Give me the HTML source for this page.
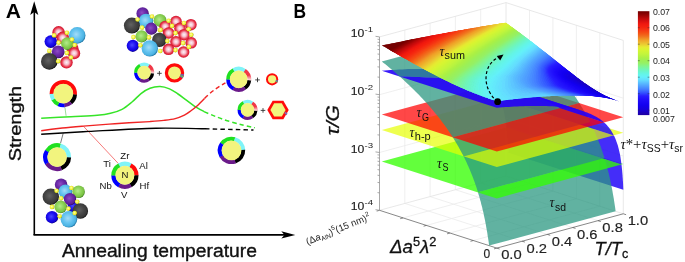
<!DOCTYPE html><html><head><meta charset="utf-8"><style>html,body{margin:0;padding:0;background:#fff;width:685px;height:262px;overflow:hidden}svg{display:block;will-change:transform}</style></head><body><svg width="685" height="262" viewBox="0 0 685 262" font-family="Liberation Sans, sans-serif"><defs><radialGradient id="g_red" cx="0.5" cy="0.5" r="0.56"><stop offset="0" stop-color="#fdf4f8"/><stop offset="0.34" stop-color="#f6bccb"/><stop offset="0.66" stop-color="#ea3c50"/><stop offset="0.88" stop-color="#d0102a"/><stop offset="1" stop-color="#7e0816"/></radialGradient><radialGradient id="g_lblue" cx="0.44" cy="0.44" r="0.56"><stop offset="0" stop-color="#a4dcf8"/><stop offset="0.5" stop-color="#66c4f0"/><stop offset="0.86" stop-color="#4ab2e2"/><stop offset="1" stop-color="#267aa8"/></radialGradient><radialGradient id="g_blue" cx="0.44" cy="0.44" r="0.56"><stop offset="0" stop-color="#4a48ff"/><stop offset="0.5" stop-color="#1e12f2"/><stop offset="0.86" stop-color="#1000d6"/><stop offset="1" stop-color="#080080"/></radialGradient><radialGradient id="g_green" cx="0.44" cy="0.44" r="0.56"><stop offset="0" stop-color="#b4ea8c"/><stop offset="0.5" stop-color="#8ed45a"/><stop offset="0.86" stop-color="#78c040"/><stop offset="1" stop-color="#468626"/></radialGradient><radialGradient id="g_purple" cx="0.44" cy="0.44" r="0.56"><stop offset="0" stop-color="#8e4cc4"/><stop offset="0.5" stop-color="#6c2caa"/><stop offset="0.86" stop-color="#5a1e94"/><stop offset="1" stop-color="#320a56"/></radialGradient><radialGradient id="g_gray" cx="0.44" cy="0.44" r="0.56"><stop offset="0" stop-color="#626262"/><stop offset="0.5" stop-color="#474747"/><stop offset="0.86" stop-color="#383838"/><stop offset="1" stop-color="#161616"/></radialGradient><radialGradient id="g_yellow" cx="0.44" cy="0.44" r="0.56"><stop offset="0" stop-color="#ffffb4"/><stop offset="0.5" stop-color="#f4f44a"/><stop offset="0.86" stop-color="#e2e21c"/><stop offset="1" stop-color="#9a9a10"/></radialGradient><linearGradient id="fadeR" x1="0" y1="0" x2="1" y2="1"><stop offset="0" stop-color="#f02030"/><stop offset="1" stop-color="#ffffff"/></linearGradient><linearGradient id="fadeW" x1="0" y1="0" x2="0" y2="1"><stop offset="0" stop-color="#ffffff" stop-opacity="0"/><stop offset="1" stop-color="#ffffff" stop-opacity="0.9"/></linearGradient><linearGradient id="cbar" x1="0" y1="1" x2="0" y2="0"><stop offset="0.000" stop-color="#1c00a0"/><stop offset="0.011" stop-color="#1e00aa"/><stop offset="0.049" stop-color="#1600d7"/><stop offset="0.097" stop-color="#1400f0"/><stop offset="0.145" stop-color="#1e0afa"/><stop offset="0.184" stop-color="#281eff"/><stop offset="0.213" stop-color="#3250ff"/><stop offset="0.251" stop-color="#4682ff"/><stop offset="0.280" stop-color="#50a0ff"/><stop offset="0.309" stop-color="#5abeff"/><stop offset="0.338" stop-color="#64dcff"/><stop offset="0.367" stop-color="#64f0fa"/><stop offset="0.396" stop-color="#64f5e6"/><stop offset="0.434" stop-color="#6ef5be"/><stop offset="0.473" stop-color="#82f58c"/><stop offset="0.501" stop-color="#96f064"/><stop offset="0.521" stop-color="#9bf058"/><stop offset="0.550" stop-color="#aaf046"/><stop offset="0.588" stop-color="#c3f53c"/><stop offset="0.627" stop-color="#d7f532"/><stop offset="0.655" stop-color="#e6eb32"/><stop offset="0.684" stop-color="#ebc832"/><stop offset="0.723" stop-color="#f0a028"/><stop offset="0.761" stop-color="#f06e1e"/><stop offset="0.790" stop-color="#f55014"/><stop offset="0.819" stop-color="#f53714"/><stop offset="0.848" stop-color="#f5230f"/><stop offset="0.877" stop-color="#f0190f"/><stop offset="0.906" stop-color="#d70f0f"/><stop offset="0.935" stop-color="#b90a0a"/><stop offset="0.963" stop-color="#960505"/><stop offset="0.992" stop-color="#780000"/><stop offset="1.000" stop-color="#730000"/></linearGradient></defs><style>.r{fill:#ff0000;fill-opacity:0.72;shape-rendering:crispEdges}.y{fill:#f0ff00;fill-opacity:0.68;shape-rendering:crispEdges}.g{fill:#2cff00;fill-opacity:0.72;shape-rendering:crispEdges}.t{fill:#3ca896;fill-opacity:0.78;shape-rendering:crispEdges}.b{fill:#1010ff;fill-opacity:0.92;shape-rendering:crispEdges}.S path{fill:currentColor;stroke:currentColor;stroke-width:.45}</style><path d="M522.1,241.2L404.8,203.4M473.3,240.5L599.8,206.2M547.4,234.4L430.1,196.6M449.9,233.0L576.4,198.7M572.7,227.5L455.4,189.7M426.4,225.4L552.9,191.1M598.0,220.7L480.7,182.9M403.0,217.9L529.5,183.6M404.8,203.4L404.8,30.0M430.1,196.6L430.1,23.2M455.4,189.7L455.4,16.3M480.7,182.9L480.7,9.5M379.5,94.7L506.0,60.4M623.3,98.2L506.0,60.4M379.5,152.5L506.0,118.2M623.3,156.0L506.0,118.2M599.8,206.2L599.8,32.8M576.4,198.7L576.4,25.3M552.9,191.1L552.9,17.7M529.5,183.6L529.5,10.2" stroke="#ebebeb" stroke-width="0.8" fill="none"/><path d="M379.5,36.9L506.0,2.6M506.0,2.6L623.3,40.4M506.0,176.0L506.0,2.6M623.3,213.8L623.3,40.4M379.5,210.3L506.0,176.0M506.0,176.0L623.3,213.8" stroke="#e2e2e2" stroke-width="0.8" fill="none"/><path d="M379.5,210.3L496.8,248.1M496.8,248.1L623.3,213.8M496.8,248.1L499.6,249.0M522.1,241.2L524.9,242.1M547.4,234.4L550.2,235.3M572.7,227.5L575.5,228.4M598.0,220.7L600.8,221.6M623.3,213.8L626.1,214.7M496.8,248.1L494.0,248.9M473.3,240.5L470.5,241.3M449.9,233.0L447.1,233.8M426.4,225.4L423.6,226.2M403.0,217.9L400.2,218.7M379.5,210.3L376.7,211.1" stroke="#555" stroke-width="0.7" fill="none"/><path d="M379.5,210.3L379.5,36.9M379.5,210.3L375.5,209.7M379.5,192.9L377.5,192.6M379.5,182.7L377.5,182.4M379.5,175.5L377.5,175.2M379.5,169.9L377.5,169.6M379.5,165.3L377.5,165.0M379.5,161.5L377.5,161.2M379.5,158.1L377.5,157.8M379.5,155.1L377.5,154.8M379.5,152.5L375.5,151.9M379.5,135.1L377.5,134.8M379.5,124.9L377.5,124.6M379.5,117.7L377.5,117.4M379.5,112.1L377.5,111.8M379.5,107.5L377.5,107.2M379.5,103.7L377.5,103.4M379.5,100.3L377.5,100.0M379.5,97.3L377.5,97.0M379.5,94.7L375.5,94.1M379.5,77.3L377.5,77.0M379.5,67.1L377.5,66.8M379.5,59.9L377.5,59.6M379.5,54.3L377.5,54.0M379.5,49.7L377.5,49.4M379.5,45.9L377.5,45.6M379.5,42.5L377.5,42.2M379.5,39.5L377.5,39.2M379.5,36.9L375.5,36.3" stroke="#8c8c8c" stroke-width="0.75" fill="none"/><path d="M621.5,164.6L621.9,168.2L622.1,169.9L622.2,171.2L622.3,172.5L622.4,173.6L622.5,174.7L622.6,175.8L622.6,176.8L622.7,177.8L622.8,178.9L622.8,179.9L622.9,180.9L623.0,181.9L623.0,182.9L623.1,184.0L623.1,185.1L623.2,186.2L623.2,187.3L623.3,188.5L623.3,189.8L508.3,152.8L508.3,151.5L508.3,150.3L508.2,149.1L508.2,148.0L508.1,146.9L508.1,145.9L508.0,144.9L507.9,143.8L507.9,142.8L507.8,141.8L507.8,140.8L507.7,139.8L507.6,138.7L507.5,137.7L507.5,136.6L507.4,135.4L507.2,134.2L507.1,132.8L507.0,131.1L506.6,127.5Z" fill="#2a10f8" fill-opacity="0.88"/><path d="M489.1,245.6L488.7,242.2L488.2,239.0L487.7,235.9L487.3,233.0L486.8,230.2L486.3,227.6L485.9,225.0L485.4,222.5L485.0,220.2L484.5,217.9L484.0,215.7L483.6,213.6L483.1,211.5L482.6,209.5L482.2,207.6L481.7,205.7L481.2,203.9L480.8,202.1L480.3,200.4L479.8,198.7L479.4,197.0L478.9,195.4L478.4,193.9L478.0,192.3L604.5,158.0L604.9,159.6L605.4,161.1L605.9,162.7L606.3,164.4L606.8,166.1L607.3,167.8L607.7,169.6L608.2,171.4L608.7,173.3L609.1,175.2L609.6,177.2L610.1,179.3L610.5,181.4L611.0,183.6L611.5,185.9L611.9,188.2L612.4,190.7L612.8,193.3L613.3,195.9L613.8,198.7L614.2,201.6L614.7,204.7L615.2,207.9L615.6,211.3Z" fill="#2c9882" fill-opacity="0.75"/><path d="M496.8,198.4L623.3,164.1L508.3,127.1L381.8,161.4Z" fill="#33ff00" fill-opacity="0.765"/><path d="M613.8,135.4L614.2,136.1L614.6,137.0L615.0,137.8L615.4,138.7L615.7,139.6L616.1,140.6L616.5,141.7L616.9,142.7L617.3,143.9L617.7,145.1L618.1,146.4L618.4,147.8L618.8,149.3L619.2,150.9L619.6,152.7L620.0,154.6L620.4,156.7L620.7,159.0L621.1,161.6L621.5,164.6L506.6,127.5L506.2,124.6L505.8,122.0L505.4,119.7L505.0,117.6L504.6,115.6L504.2,113.9L503.9,112.3L503.5,110.8L503.1,109.4L502.7,108.1L502.3,106.9L501.9,105.7L501.6,104.6L501.2,103.6L500.8,102.6L500.4,101.7L500.0,100.8L499.6,99.9L499.3,99.1L498.9,98.3Z" fill="#2a10f8" fill-opacity="0.88"/><path d="M478.0,192.3L477.4,190.4L476.8,188.5L476.2,186.7L475.6,185.0L475.0,183.2L474.4,181.5L473.8,179.9L473.2,178.3L472.6,176.7L472.0,175.2L471.4,173.7L470.8,172.2L470.2,170.7L469.6,169.3L469.0,167.9L468.4,166.5L467.8,165.2L467.2,163.9L466.6,162.6L466.0,161.3L465.4,160.1L464.8,158.8L464.2,157.6L463.6,156.4L590.1,122.1L590.7,123.3L591.3,124.5L591.9,125.8L592.5,127.0L593.1,128.3L593.7,129.6L594.3,130.9L594.9,132.2L595.5,133.6L596.1,135.0L596.7,136.4L597.3,137.9L597.9,139.4L598.5,140.9L599.1,142.4L599.7,144.0L600.3,145.6L600.9,147.2L601.5,148.9L602.1,150.7L602.7,152.4L603.3,154.2L603.9,156.1L604.5,158.0Z" fill="#2c9882" fill-opacity="0.75"/><path d="M496.8,167.1L623.3,132.8L508.3,95.8L381.8,130.1Z" fill="#e6ff00" fill-opacity="0.69"/><path d="M604.1,122.4L604.5,122.9L605.0,123.3L605.5,123.8L606.0,124.3L606.5,124.8L607.0,125.3L607.5,125.9L608.0,126.4L608.4,127.0L608.9,127.6L609.4,128.3L609.9,128.9L610.4,129.6L610.9,130.3L611.4,131.1L611.9,131.9L612.4,132.7L612.8,133.5L613.3,134.4L613.8,135.4L498.9,98.3L498.4,97.4L497.9,96.5L497.4,95.6L496.9,94.8L496.4,94.0L495.9,93.3L495.4,92.6L495.0,91.9L494.5,91.2L494.0,90.6L493.5,90.0L493.0,89.4L492.5,88.8L492.0,88.3L491.5,87.8L491.1,87.3L490.6,86.8L490.1,86.3L489.6,85.8L489.1,85.4Z" fill="#2a10f8" fill-opacity="0.88"/><path d="M463.6,156.4L463.2,155.5L462.7,154.6L462.2,153.8L461.8,152.9L461.3,152.0L460.9,151.2L460.4,150.4L460.0,149.5L459.5,148.7L459.1,147.9L458.6,147.1L458.2,146.3L457.7,145.5L457.3,144.7L456.8,144.0L456.4,143.2L455.9,142.4L455.5,141.7L455.0,141.0L454.6,140.2L454.1,139.5L453.7,138.8L453.2,138.0L452.8,137.3L579.3,103.0L579.7,103.7L580.2,104.5L580.6,105.2L581.1,105.9L581.5,106.7L582.0,107.4L582.4,108.1L582.9,108.9L583.3,109.7L583.8,110.4L584.2,111.2L584.7,112.0L585.1,112.8L585.6,113.6L586.0,114.4L586.5,115.2L586.9,116.1L587.4,116.9L587.8,117.7L588.3,118.6L588.7,119.5L589.2,120.3L589.7,121.2L590.1,122.1Z" fill="#2c9882" fill-opacity="0.75"/><path d="M496.8,151.5L623.3,117.2L508.3,80.2L381.8,114.5Z" fill="#ff0000" fill-opacity="0.72"/><path d="M525.2,92.6L526.8,93.1L528.4,93.7L530.1,94.2L531.7,94.8L533.4,95.4L535.1,96.0L536.8,96.7L538.4,97.4L540.2,98.1L541.9,98.8L543.6,99.6L545.4,100.4L547.1,101.2L548.9,102.1L550.7,103.0L552.5,103.9L554.4,104.9L556.2,106.0L558.1,107.1L560.0,108.2L489.1,85.4L488.1,84.5L487.1,83.7L486.1,82.9L485.1,82.2L484.1,81.5L483.1,80.9L482.2,80.3L481.2,79.7L480.2,79.1L479.2,78.6L478.2,78.1L477.2,77.6L476.2,77.2L475.2,76.8L474.2,76.3L473.2,76.0L472.2,75.6L471.2,75.2L470.2,74.9L469.3,74.6Z" fill="#2300fa" fill-opacity="0.9"/><path d="M399.6,76.5L403.5,76.6L407.4,76.6L411.3,76.7L415.2,76.9L419.2,77.0L423.1,77.2L427.1,77.4L431.0,77.6L435.0,77.8L439.1,78.1L443.1,78.4L447.1,78.7L451.2,79.0L455.3,79.4L459.4,79.8L463.6,80.2L467.7,80.7L471.9,81.3L476.1,81.8L480.4,82.5L484.7,83.1L489.0,83.9L493.3,84.7L497.7,85.5L502.2,86.4L506.7,87.5L511.2,88.6L515.8,89.8L520.4,91.1L525.2,92.6L469.3,74.6L466.3,73.7L463.4,72.9L460.5,72.2L457.6,71.7L454.7,71.1L451.8,70.7L448.9,70.3L445.9,70.0L443.0,69.7L440.1,69.5L437.2,69.3L434.3,69.1L431.4,69.0L428.5,68.9L425.6,68.9L422.6,68.9L419.7,68.9L416.8,68.9L413.9,68.9L411.0,69.0L408.1,69.1L405.2,69.2L402.2,69.4L399.3,69.5L396.4,69.7L393.5,69.9L390.6,70.1L387.7,70.3L384.8,70.5L381.8,70.7Z" fill="#2300fa" fill-opacity="0.9"/><path d="M452.8,137.3L451.0,134.6L449.2,131.9L447.5,129.3L445.7,126.8L443.9,124.3L442.1,121.9L440.4,119.6L438.6,117.3L436.8,115.1L435.0,112.9L433.3,110.8L431.5,108.7L429.7,106.6L427.9,104.6L426.2,102.6L424.4,100.7L422.6,98.8L420.9,96.9L419.1,95.1L417.3,93.3L415.5,91.5L413.8,89.7L412.0,88.0L410.2,86.3L408.4,84.6L406.7,82.9L404.9,81.2L403.1,79.6L401.4,78.0L399.6,76.4L397.8,74.9L396.0,73.3L394.3,71.8L392.5,70.3L390.7,68.8L388.9,67.3L387.2,65.8L385.4,64.3L383.6,62.9L381.8,61.5L508.3,27.2L510.1,28.6L511.9,30.0L513.7,31.5L515.4,33.0L517.2,34.5L519.0,36.0L520.8,37.5L522.5,39.0L524.3,40.6L526.1,42.1L527.9,43.7L529.6,45.3L531.4,46.9L533.2,48.6L534.9,50.3L536.7,52.0L538.5,53.7L540.3,55.4L542.0,57.2L543.8,59.0L545.6,60.8L547.4,62.6L549.1,64.5L550.9,66.4L552.7,68.3L554.4,70.3L556.2,72.3L558.0,74.4L559.8,76.5L561.5,78.6L563.3,80.8L565.1,83.0L566.9,85.3L568.6,87.6L570.4,90.0L572.2,92.5L574.0,95.0L575.7,97.6L577.5,100.3L579.3,103.0Z" fill="#2c9882" fill-opacity="0.75"/><path d="M584.2,111.6L585.2,111.9L586.2,112.3L587.2,112.6L588.2,113.0L589.2,113.4L590.2,113.8L591.2,114.2L592.1,114.7L593.1,115.2L594.1,115.7L595.1,116.2L596.1,116.7L597.1,117.3L598.1,117.9L599.1,118.6L600.1,119.3L601.1,120.0L602.1,120.7L603.1,121.6L604.1,122.4L560.0,108.2L558.1,107.1L556.2,106.0L554.4,104.9L552.5,103.9L550.7,103.0L548.9,102.1L547.1,101.2L545.4,100.4L543.6,99.6L541.9,98.8L540.2,98.1L538.4,97.4L536.8,96.7L535.1,96.0L533.4,95.4L531.7,94.8L530.1,94.2L528.4,93.7L526.8,93.1L525.2,92.6Z" fill="#2300fa" fill-opacity="0.9"/><path d="M496.8,107.8L499.7,107.6L502.6,107.3L505.5,107.1L508.5,106.9L511.4,106.7L514.3,106.6L517.2,106.4L520.1,106.3L523.0,106.2L525.9,106.1L528.9,106.0L531.8,105.9L534.7,105.9L537.6,105.9L540.5,105.9L543.4,106.0L546.3,106.1L549.2,106.2L552.2,106.3L555.1,106.5L558.0,106.8L560.9,107.0L563.8,107.4L566.7,107.7L569.6,108.2L572.6,108.7L575.5,109.3L578.4,110.0L581.3,110.7L584.2,111.6L525.2,92.6L520.4,91.1L515.8,89.8L511.2,88.6L506.7,87.5L502.2,86.4L497.7,85.5L493.3,84.7L489.0,83.9L484.7,83.1L480.4,82.5L476.1,81.8L471.9,81.3L467.7,80.7L463.6,80.2L459.4,79.8L455.3,79.4L451.2,79.0L447.1,78.7L443.1,78.4L439.1,78.1L435.0,77.8L431.0,77.6L427.1,77.4L423.1,77.2L419.2,77.0L415.2,76.9L411.3,76.7L407.4,76.6L403.5,76.6L399.6,76.5Z" fill="#2300fa" fill-opacity="0.9"/><clipPath id="sumclip"><path d="M496.8,101.3L498.8,101.0L500.8,100.8L502.9,100.5L504.9,100.3L506.9,100.0L508.9,99.8L511.0,99.6L513.0,99.3L515.0,99.1L517.0,98.9L519.1,98.7L521.1,98.5L523.1,98.3L525.1,98.1L527.2,97.9L529.2,97.7L531.2,97.5L533.2,97.3L535.3,97.2L537.3,97.0L539.3,96.8L541.3,96.7L543.4,96.5L545.4,96.4L547.4,96.3L549.4,96.2L551.4,96.0L553.5,95.9L555.5,95.8L557.5,95.8L559.5,95.7L561.6,95.6L563.6,95.6L565.6,95.5L567.6,95.5L569.7,95.4L571.7,95.4L573.7,95.4L575.7,95.4L577.8,95.5L579.8,95.5L581.8,95.6L583.8,95.6L585.9,95.7L587.9,95.8L589.9,96.0L591.9,96.1L594.0,96.3L596.0,96.5L598.0,96.7L600.0,97.0L602.0,97.3L604.1,97.6L606.1,97.9L608.1,98.3L610.1,98.7L612.2,99.2L614.2,99.8L616.2,100.4L618.2,101.0L618.2,101.0L618.2,101.0L618.2,101.0L618.3,101.0L618.3,101.0L618.3,101.0L618.3,101.0L618.3,101.0L618.3,101.0L618.3,101.0L618.3,101.0L618.3,101.0L618.3,101.1L618.3,101.1L618.3,101.1L618.3,101.1L618.3,101.1L618.3,101.1L618.3,101.1L618.3,101.1L618.3,101.1L618.3,101.1L618.3,101.1L618.3,101.1L618.3,101.1L618.3,101.1L618.3,101.1L618.3,101.1L618.3,101.1L618.3,101.1L618.3,101.1L618.3,101.1L618.3,101.1L618.3,101.1L618.3,101.1L618.4,101.1L618.4,101.1L618.4,101.1L618.4,101.1L618.4,101.1L618.4,101.1L618.4,101.1L618.4,101.1L618.4,101.1L618.4,101.2L618.4,101.2L618.4,101.2L618.4,101.2L618.4,101.2L618.4,101.2L618.4,101.2L618.4,101.2L618.4,101.2L618.4,101.2L618.4,101.2L618.4,101.2L618.4,101.2L618.4,101.2L618.4,101.2L618.4,101.2L616.5,100.5L614.7,99.8L612.8,99.1L610.9,98.3L609.0,97.5L607.2,96.6L605.3,95.7L603.4,94.7L601.5,93.7L599.7,92.7L597.8,91.6L595.9,90.4L594.0,89.3L592.1,88.1L590.3,86.8L588.4,85.6L586.5,84.3L584.6,82.9L582.8,81.6L580.9,80.2L579.0,78.8L577.1,77.4L575.3,76.0L573.4,74.5L571.5,73.1L569.6,71.6L567.8,70.2L565.9,68.7L564.0,67.2L562.1,65.7L560.2,64.2L558.4,62.7L556.5,61.3L554.6,59.8L552.7,58.3L550.9,56.8L549.0,55.3L547.1,53.8L545.2,52.3L543.4,50.9L541.5,49.4L539.6,47.9L537.7,46.5L535.8,45.0L534.0,43.6L532.1,42.1L530.2,40.7L528.3,39.3L526.5,37.8L524.6,36.4L522.7,35.0L520.8,33.6L519.0,32.2L517.1,30.9L515.2,29.5L513.3,28.1L511.4,26.7L509.6,25.4L507.7,24.0L505.8,22.7L503.7,23.0L501.7,23.3L499.6,23.6L497.6,23.9L495.5,24.3L493.4,24.6L491.4,24.9L489.3,25.3L487.2,25.6L485.2,26.0L483.1,26.3L481.0,26.6L479.0,27.0L476.9,27.4L474.8,27.7L472.8,28.1L470.7,28.4L468.6,28.8L466.6,29.2L464.5,29.5L462.4,29.9L460.4,30.3L458.3,30.6L456.2,31.0L454.2,31.4L452.1,31.8L450.0,32.1L448.0,32.5L445.9,32.9L443.8,33.3L441.8,33.7L439.7,34.1L437.6,34.5L435.6,34.8L433.5,35.2L431.4,35.6L429.4,36.0L427.3,36.4L425.2,36.8L423.2,37.2L421.1,37.6L419.0,38.0L417.0,38.4L414.9,38.8L412.8,39.2L410.8,39.6L408.7,40.0L406.6,40.4L404.6,40.8L402.5,41.3L400.4,41.7L398.4,42.1L396.3,42.5L394.2,42.9L392.2,43.3L390.1,43.7L388.0,44.2L386.0,44.6L383.9,45.0L381.8,45.4L383.8,46.5L385.7,47.6L387.6,48.7L389.5,49.8L391.4,50.9L393.3,52.0L395.3,53.1L397.2,54.2L399.1,55.3L401.0,56.4L402.9,57.5L404.8,58.6L406.8,59.6L408.7,60.7L410.6,61.8L412.5,62.9L414.4,63.9L416.3,65.0L418.2,66.1L420.2,67.1L422.1,68.2L424.0,69.2L425.9,70.2L427.8,71.3L429.7,72.3L431.7,73.3L433.6,74.3L435.5,75.3L437.4,76.3L439.3,77.3L441.2,78.3L443.2,79.2L445.1,80.2L447.0,81.1L448.9,82.1L450.8,83.0L452.7,83.9L454.7,84.8L456.6,85.7L458.5,86.5L460.4,87.4L462.3,88.3L464.2,89.1L466.1,89.9L468.1,90.7L470.0,91.5L471.9,92.3L473.8,93.1L475.7,93.8L477.6,94.6L479.6,95.3L481.5,96.0L483.4,96.7L485.3,97.4L487.2,98.1L489.1,98.7L491.1,99.4L493.0,100.0L494.9,100.7Z"/></clipPath><g stroke-width="1.1" stroke-linejoin="round" clip-path="url(#sumclip)"><path d="M587.9,85.2L585.5,83.5L588.1,85.3Z" fill="#1b00b9" stroke="#1b00b9"/><path d="M584.3,84.4L581.3,82.6L579.8,81.5L579.1,80.6L579.4,80.2L580.5,80.0L586.1,84.1L592.0,88.0L597.8,91.6L602.7,94.4L610.1,98.0L618.3,101.2L611.8,98.7L606.5,96.3Z" fill="#1a00c0" stroke="#1a00c0"/><path d="M580.7,83.3L578.0,81.7L576.6,80.6L575.8,79.6L575.6,79.1L575.9,78.7L576.8,78.3L578.4,78.3L580.5,80.0L579.4,80.2L579.1,80.6L579.4,81.0L580.5,82.1L583.2,83.8L606.5,96.3L611.8,98.7L618.2,101.1L610.9,98.4L605.4,96.0Z" fill="#1900c8" stroke="#1900c8"/><path d="M579.8,83.6L576.1,81.4L574.1,79.8L573.2,78.6L573.1,78.1L573.3,77.7L573.6,77.4L574.6,77.1L576.7,77.1L578.4,78.3L577.0,78.3L576.0,78.6L575.6,79.1L575.8,79.6L577.2,81.1L579.7,82.8L605.4,96.0L611.7,98.7L618.1,101.0L610.8,98.5L604.3,95.8Z" fill="#1700d0" stroke="#1700d0"/><path d="M578.2,83.3L574.6,81.2L572.5,79.6L571.2,78.1L571.1,77.1L571.3,76.8L572.6,76.1L575.4,76.1L576.7,77.1L574.8,77.1L573.6,77.4L573.2,77.8L573.2,78.6L574.7,80.3L577.8,82.5L583.1,85.3L604.3,95.8L610.0,98.2L616.8,100.5L610.0,98.3L603.2,95.6Z" fill="#1600d8" stroke="#1600d8"/><path d="M579.7,84.7L574.9,82.1L571.2,79.5L570.1,78.4L569.4,77.4L569.3,76.4L569.6,76.0L570.3,75.5L571.3,75.2L574.1,75.1L575.4,76.1L573.2,76.1L572.1,76.3L571.3,76.8L571.1,77.1L571.1,77.7L571.5,78.6L572.5,79.6L576.3,82.3L582.2,85.4L602.5,95.3L608.3,97.7L615.3,100.1L608.4,97.8L601.4,95.1Z" fill="#1600db" stroke="#1600db"/><path d="M576.3,83.5L572.0,80.9L568.8,78.3L568.1,77.3L567.7,76.4L567.8,75.8L568.2,75.1L569.8,74.4L573.0,74.3L574.1,75.1L572.0,75.1L570.3,75.5L569.5,76.0L569.3,76.9L569.7,77.9L570.6,78.9L574.0,81.5L580.8,85.2L600.6,94.8L606.6,97.2L613.7,99.6L606.7,97.4L599.5,94.7L582.4,86.6Z" fill="#1500de" stroke="#1500de"/><path d="M577.0,84.3L571.6,81.3L568.2,78.7L566.8,77.2L566.4,76.2L566.3,75.4L566.7,74.6L567.5,74.1L568.6,73.7L572.0,73.5L573.0,74.3L570.9,74.3L569.1,74.6L568.0,75.3L567.7,76.3L568.1,77.3L568.8,78.3L570.6,79.9L572.8,81.4L580.3,85.5L598.7,94.3L604.9,96.8L612.2,99.2L605.9,97.3L597.7,94.3Z" fill="#1500e2" stroke="#1500e2"/><path d="M579.5,86.1L572.1,82.2L567.7,79.1L566.1,77.6L565.2,76.3L564.9,75.0L565.3,74.1L566.0,73.5L567.0,73.1L568.9,72.8L571.0,72.7L572.0,73.5L569.2,73.6L567.5,74.1L566.6,74.7L566.3,75.6L566.5,76.7L567.7,78.2L569.4,79.8L571.6,81.3L578.9,85.3L596.9,94.0L603.2,96.4L610.6,98.8L604.2,97.0L595.8,93.9Z" fill="#1500e5" stroke="#1500e5"/><path d="M573.6,83.6L568.7,80.6L566.7,79.1L565.1,77.5L564.3,76.5L563.8,75.3L563.8,74.2L564.3,73.4L565.1,72.8L566.1,72.4L568.0,72.1L570.0,72.0L571.0,72.7L568.2,72.9L566.5,73.3L565.4,74.0L564.9,75.0L565.2,76.3L566.1,77.6L567.7,79.1L569.8,80.7L573.0,82.7L577.6,85.2L594.3,93.3L600.5,95.7L609.0,98.5L607.4,98.2L602.6,96.7L594.0,93.6L583.0,88.4Z" fill="#1500e9" stroke="#1500e9"/><path d="M594.1,94.0L589.9,92.3L578.5,86.7L572.4,83.4L568.4,81.0L565.7,79.0L563.5,76.7L562.5,74.9L562.5,73.9L562.8,73.3L563.7,72.4L564.9,71.9L566.7,71.5L569.1,71.2L570.0,72.0L567.3,72.2L565.6,72.6L564.2,73.4L563.9,73.9L563.7,74.7L564.0,76.0L565.1,77.5L566.7,79.1L568.7,80.6L571.8,82.6L576.3,85.0L593.2,93.3L599.7,95.7L607.4,98.2L602.9,97.0Z" fill="#1400ec" stroke="#1400ec"/><path d="M592.2,93.8L588.0,92.0L578.8,87.4L572.1,83.8L567.4,80.9L564.2,78.4L562.3,76.4L561.7,75.3L561.4,74.3L561.4,73.6L561.7,72.7L562.4,72.1L563.8,71.3L565.6,70.9L568.2,70.6L569.1,71.2L566.4,71.5L564.7,72.0L563.3,72.7L562.5,73.9L562.7,75.4L563.5,76.7L565.1,78.5L567.0,80.0L570.7,82.5L575.0,84.9L590.6,92.6L597.0,95.1L605.9,97.9L604.3,97.6L601.2,96.7Z" fill="#1400f0" stroke="#1400f0"/><path d="M590.4,93.5L586.2,91.8L577.3,87.3L570.1,83.2L565.7,80.4L562.7,77.9L561.0,75.8L560.4,74.8L560.2,73.7L560.3,72.9L560.7,72.1L561.5,71.4L562.9,70.7L564.7,70.2L567.4,69.9L568.2,70.6L565.6,70.9L563.3,71.5L562.0,72.4L561.4,73.6L561.5,74.8L562.3,76.4L563.6,77.9L566.0,79.9L569.6,82.4L573.7,84.7L589.5,92.7L596.2,95.1L604.3,97.6L602.7,97.3L600.3,96.7Z" fill="#1501f1" stroke="#1501f1"/><path d="M589.6,93.6L585.8,92.3L579.5,89.1L570.5,84.1L564.7,80.3L561.7,77.8L559.8,75.3L559.3,74.2L559.1,73.2L559.6,71.8L560.6,70.8L562.1,70.1L566.5,69.2L567.4,69.9L564.7,70.2L562.4,70.9L560.8,72.1L560.3,73.2L560.4,74.8L561.3,76.3L562.7,77.9L565.0,79.9L568.6,82.3L573.3,85.1L587.6,92.5L594.4,94.9L602.7,97.3L600.0,96.8Z" fill="#1703f3" stroke="#1703f3"/><path d="M587.0,93.1L582.8,91.4L576.9,88.4L568.5,83.5L563.7,80.2L560.8,77.8L558.8,75.2L558.3,74.2L558.1,73.1L558.2,72.0L558.7,71.2L559.8,70.2L561.3,69.5L565.7,68.5L566.5,69.2L563.3,69.7L561.1,70.5L559.9,71.4L559.2,72.7L559.3,74.2L560.0,75.8L561.2,77.3L563.4,79.3L566.7,81.7L571.2,84.5L579.5,89.1L585.1,91.9L590.6,94.0L601.1,97.1L599.4,96.9L596.2,96.0Z" fill="#1804f4" stroke="#1804f4"/><path d="M583.5,92.3L578.4,89.9L572.8,86.8L565.9,82.5L561.5,79.2L558.9,76.7L557.4,74.3L557.0,72.4L557.3,71.4L557.8,70.6L559.0,69.6L560.5,68.9L564.8,67.8L565.7,68.5L562.5,69.1L560.3,69.9L558.7,71.2L558.1,72.5L558.3,74.2L559.1,75.7L560.3,77.3L562.4,79.3L565.7,81.7L570.0,84.4L576.9,88.4L582.1,91.1L585.0,92.4L588.0,93.4L599.4,96.9L597.9,96.7L593.6,95.5Z" fill="#1905f5" stroke="#1905f5"/><path d="M585.0,93.2L579.7,91.2L573.3,87.9L566.7,83.8L561.6,80.1L558.4,77.2L556.6,74.6L556.1,73.5L556.0,72.2L556.2,71.2L556.7,70.3L557.8,69.3L559.2,68.5L564.0,67.2L564.8,67.8L561.7,68.5L559.5,69.3L557.8,70.6L557.1,72.0L557.1,73.6L557.8,75.2L559.4,77.2L561.5,79.2L564.6,81.6L569.4,84.8L574.9,88.0L579.8,90.6L582.7,92.0L585.5,93.0L597.9,96.7L595.4,96.3Z" fill="#1b07f7" stroke="#1b07f7"/><path d="M582.5,92.7L579.7,91.7L576.6,90.3L570.3,87.0L564.2,82.8L560.0,79.6L557.0,76.6L555.4,74.1L555.0,72.7L555.0,71.5L555.3,70.6L555.8,69.7L557.0,68.7L558.4,67.9L563.1,66.5L564.0,67.2L560.3,68.1L558.2,69.0L557.0,70.0L556.1,71.4L556.0,73.0L556.6,74.6L558.0,76.7L559.9,78.7L563.5,81.5L568.0,84.7L571.9,87.1L577.5,90.1L583.0,92.5L596.4,96.5L595.0,96.4L592.9,95.8Z" fill="#1c08f8" stroke="#1c08f8"/><path d="M580.0,92.3L574.3,89.9L568.6,86.9L562.9,82.8L558.4,79.1L555.7,76.1L554.2,73.5L553.9,72.4L553.9,71.4L554.2,70.3L555.0,69.1L556.2,68.2L557.7,67.4L562.3,65.8L563.1,66.5L559.5,67.5L557.4,68.4L555.8,69.7L555.1,71.0L555.0,72.7L555.6,74.6L557.0,76.6L558.9,78.6L562.3,81.5L567.8,85.4L571.0,87.4L575.2,89.6L581.5,92.4L595.0,96.4L593.6,96.3L590.3,95.4Z" fill="#1e0afa" stroke="#1e0afa"/><path d="M581.5,93.1L575.8,91.2L568.3,87.6L565.8,86.1L559.4,80.9L555.5,77.1L554.3,75.6L553.5,74.0L553.0,72.5L552.9,71.3L553.1,70.2L553.8,68.9L555.0,67.9L556.4,67.0L561.4,65.2L562.3,65.8L558.7,66.9L556.4,68.0L555.0,69.2L554.0,70.8L553.9,72.4L554.7,74.6L556.1,76.6L557.9,78.6L561.7,81.9L566.9,85.7L568.6,86.9L572.8,89.2L579.0,91.9L586.1,94.2L593.6,96.3L592.1,96.1Z" fill="#1f0dfb" stroke="#1f0dfb"/><path d="M579.0,92.7L575.9,91.7L571.8,90.1L565.2,86.8L562.1,84.4L557.6,80.4L554.1,76.6L553.0,75.0L552.3,73.5L551.9,71.9L551.9,70.8L552.2,69.6L553.0,68.3L554.2,67.3L555.6,66.4L560.6,64.5L561.4,65.2L557.4,66.5L555.4,67.6L553.8,68.9L553.3,69.8L552.9,70.7L552.9,72.4L553.7,74.5L555.1,76.6L556.8,78.6L560.4,81.8L565.8,86.1L570.4,88.7L577.5,91.8L584.6,94.1L592.1,96.1L590.7,96.0Z" fill="#2110fb" stroke="#2110fb"/><path d="M575.4,92.0L569.3,89.6L563.3,86.7L559.6,83.5L555.0,79.0L552.3,75.5L551.5,74.0L550.9,72.4L550.8,71.0L551.0,69.7L551.6,68.5L552.5,67.4L555.3,65.6L559.7,63.8L560.6,64.5L556.1,66.2L554.6,67.0L553.4,68.0L552.4,69.1L552.0,70.1L551.8,71.3L551.9,72.4L553.0,75.0L555.3,78.1L559.1,81.8L564.6,86.4L569.5,89.0L575.9,91.7L583.1,94.0L590.7,96.0L589.3,95.9L587.1,95.4Z" fill="#2313fc" stroke="#2313fc"/><path d="M572.9,91.6L566.0,88.9L560.9,86.3L557.9,83.4L554.2,79.4L551.3,75.5L550.2,73.5L549.8,71.9L549.8,70.3L550.1,69.1L550.7,67.9L551.7,66.8L554.0,65.3L558.8,63.1L559.7,63.8L555.3,65.6L552.5,67.4L551.6,68.5L551.1,69.4L550.8,70.8L550.8,71.9L551.7,74.5L553.8,77.5L557.3,81.3L562.8,86.3L567.7,88.9L573.5,91.3L580.6,93.6L589.3,95.9L587.8,95.8L584.5,95.0Z" fill="#2417fd" stroke="#2417fd"/><path d="M570.4,91.2L563.5,88.5L559.0,86.2L555.9,83.0L552.1,78.5L549.6,74.5L549.0,72.9L548.7,71.3L548.8,69.7L549.1,68.5L549.9,67.3L551.3,65.9L553.7,64.4L557.9,62.4L558.8,63.1L554.0,65.3L551.7,66.8L550.7,67.9L550.2,68.8L549.8,70.2L549.7,71.3L550.5,74.0L552.6,77.5L556.3,81.7L560.9,86.3L565.2,88.5L571.9,91.3L579.1,93.5L587.8,95.8L586.4,95.8L581.9,94.6Z" fill="#261afe" stroke="#261afe"/><path d="M566.1,90.2L560.9,88.1L557.1,86.2L554.1,83.0L550.8,78.5L549.0,75.5L547.9,72.9L547.6,71.3L547.6,69.7L548.2,68.0L549.0,66.7L550.1,65.6L551.4,64.7L557.1,61.7L557.9,62.4L553.2,64.7L550.5,66.6L549.3,68.2L548.7,70.2L548.9,72.4L549.9,75.0L551.8,78.0L554.7,81.7L559.0,86.2L563.5,88.5L571.3,91.5L578.7,93.7L586.4,95.8L584.9,95.7L577.2,93.7L569.8,91.5Z" fill="#281eff" stroke="#281eff"/><path d="M563.5,89.8L556.6,86.9L554.7,85.8L552.7,83.4L550.0,79.4L547.8,75.5L546.8,72.9L546.5,71.3L546.5,69.7L547.0,67.9L547.8,66.5L548.9,65.4L550.6,64.1L556.2,61.0L557.1,61.7L551.9,64.4L549.4,66.4L548.2,68.0L547.6,70.2L547.9,72.9L549.0,75.5L551.5,79.4L554.5,83.4L557.1,86.2L563.4,89.1L571.8,92.1L584.9,95.7L583.5,95.6L574.6,93.3L568.2,91.5Z" fill="#2a28ff" stroke="#2a28ff"/><path d="M560.9,89.4L553.8,86.6L552.4,85.4L550.2,82.5L548.1,78.9L546.5,75.5L545.5,72.4L545.3,70.8L545.4,69.1L546.0,67.4L547.0,65.9L548.1,64.8L549.8,63.5L555.2,60.3L556.2,61.0L550.6,64.1L548.2,66.1L547.0,67.9L546.5,69.9L546.7,72.4L547.8,75.5L550.2,79.9L553.0,83.8L554.7,85.8L555.8,86.6L561.7,89.1L570.3,92.1L583.5,95.6L582.0,95.6L573.1,93.3L566.7,91.4Z" fill="#2c34ff" stroke="#2c34ff"/><path d="M559.2,89.4L551.8,86.6L551.2,86.2L550.1,85.0L548.3,82.5L546.9,79.9L545.2,75.5L544.3,72.4L544.1,70.2L544.4,68.6L544.9,67.0L545.8,65.7L546.8,64.6L548.5,63.2L554.3,59.5L555.2,60.3L549.8,63.5L547.3,65.6L546.0,67.4L545.4,69.7L545.5,72.4L546.5,75.5L548.9,80.3L551.4,84.2L553.2,86.2L553.8,86.6L560.9,89.4L569.8,92.4L582.0,95.6L580.6,95.5L571.6,93.3L565.1,91.4Z" fill="#2f3fff" stroke="#2f3fff"/><path d="M550.8,87.0L549.2,86.2L548.4,85.4L546.9,83.4L545.7,81.2L544.5,78.0L543.4,74.5L543.0,71.9L543.0,69.7L543.3,68.0L543.8,66.8L544.6,65.5L545.6,64.3L548.2,62.2L553.4,58.8L554.3,59.5L549.0,62.8L546.8,64.6L545.1,66.8L544.3,69.1L544.2,71.9L545.2,75.5L547.4,80.8L549.4,84.2L551.2,86.2L551.8,86.6L558.2,89.1L568.3,92.4L580.6,95.5L579.1,95.5L565.7,92.0L557.4,89.4Z" fill="#314bff" stroke="#314bff"/><path d="M550.6,87.7L547.2,86.3L545.8,84.7L544.4,82.6L543.3,79.9L542.4,76.6L541.8,73.0L541.7,70.3L541.9,68.6L542.4,67.1L543.1,65.7L544.0,64.5L546.4,62.3L552.5,58.1L553.4,58.8L547.7,62.6L545.0,65.0L543.8,66.8L543.0,69.1L543.0,71.9L543.9,76.1L545.5,80.8L547.5,84.2L549.2,86.2L555.5,88.8L565.7,92.0L579.1,95.5L577.7,95.5L566.3,92.6L557.7,90.1Z" fill="#3455ff" stroke="#3455ff"/><path d="M549.6,88.1L545.1,86.3L543.7,84.7L542.7,83.1L541.7,80.9L541.0,78.1L540.4,74.1L540.3,70.9L540.5,69.2L540.9,67.5L541.8,65.7L542.8,64.2L545.6,61.6L551.6,57.3L552.5,58.1L547.3,61.6L544.8,63.7L542.8,66.2L541.9,68.6L541.7,71.9L542.3,76.1L543.5,80.4L545.2,83.9L547.2,86.3L551.6,88.1L564.1,92.0L577.7,95.5L576.2,95.4L565.9,92.9L556.8,90.5Z" fill="#375eff" stroke="#375eff"/><path d="M549.5,88.8L543.1,86.4L541.1,84.0L539.9,81.4L539.3,79.1L538.9,75.7L538.8,72.0L539.4,68.1L540.1,66.3L541.2,64.4L542.6,62.8L544.3,61.3L550.6,56.6L551.6,57.3L546.0,61.3L543.9,63.1L541.9,65.5L540.7,68.1L540.4,69.8L540.3,72.0L540.8,77.1L541.7,80.9L543.4,84.3L545.1,86.3L551.6,88.8L560.2,91.4L576.2,95.4L574.8,95.4L561.7,92.3L555.9,90.8Z" fill="#3b66ff" stroke="#3b66ff"/><path d="M543.6,87.5L541.8,86.8L540.7,86.0L539.0,84.0L538.0,82.2L537.3,79.1L537.1,76.7L537.2,73.1L537.6,69.9L538.7,66.4L539.7,64.6L540.6,63.3L543.4,60.7L549.7,55.9L550.6,56.6L544.7,61.0L542.6,62.8L540.6,65.3L539.4,68.1L538.8,72.0L539.0,77.2L539.6,80.5L540.4,82.7L541.1,84.0L543.1,86.4L549.5,88.8L559.3,91.7L574.8,95.4L573.3,95.4L557.3,91.8L550.6,89.9Z" fill="#3e6fff" stroke="#3e6fff"/><path d="M543.5,88.3L539.0,86.5L537.2,84.6L536.1,82.8L535.5,81.1L535.2,77.8L535.3,75.3L535.6,72.1L536.2,69.3L537.0,67.0L537.8,65.2L539.0,63.5L542.1,60.4L548.8,55.1L549.7,55.9L543.8,60.3L541.3,62.6L539.4,65.1L538.2,67.6L537.3,71.5L537.1,76.7L537.3,79.1L537.8,81.4L538.7,83.6L539.6,84.9L541.1,86.4L546.5,88.6L557.3,91.8L573.3,95.4L571.6,95.4L557.7,92.4L550.7,90.6Z" fill="#4278ff" stroke="#4278ff"/><path d="M542.4,88.7L537.0,86.6L535.4,85.0L534.4,83.7L533.6,82.1L533.2,80.3L533.5,74.3L534.2,71.1L535.0,68.3L536.0,65.9L537.4,63.7L538.8,62.0L540.7,60.1L547.8,54.4L548.8,55.1L542.9,59.7L540.4,61.9L538.4,64.4L537.0,67.0L535.8,71.0L535.2,76.3L535.5,80.9L536.3,83.3L537.5,84.9L539.0,86.5L544.5,88.6L554.9,91.7L571.6,95.4L569.8,95.4L557.0,92.7L549.8,91.0Z" fill="#4581ff" stroke="#4581ff"/><path d="M536.6,87.4L535.0,86.7L533.3,85.1L531.8,83.0L531.1,81.3L530.9,79.9L531.0,78.5L531.7,74.4L532.5,71.2L534.2,66.6L535.5,64.3L536.7,62.6L539.8,59.5L546.9,53.7L547.8,54.4L541.6,59.4L539.1,61.6L537.1,64.1L535.5,67.1L534.2,71.1L533.3,75.9L533.2,80.3L533.4,81.6L534.0,83.1L535.4,85.0L537.0,86.6L541.5,88.4L552.1,91.6L569.8,95.4L567.9,95.5L550.1,91.6L542.4,89.4Z" fill="#4888ff" stroke="#4888ff"/><path d="M536.4,88.2L532.9,86.8L530.5,84.4L529.2,82.3L528.7,80.5L528.6,79.1L530.0,73.4L531.1,70.1L532.3,67.2L533.6,64.8L535.1,62.7L538.5,59.2L546.0,53.0L546.9,53.7L540.7,58.7L538.2,61.0L536.0,63.5L534.2,66.6L533.2,68.9L532.2,72.3L531.0,78.5L531.0,80.8L531.8,83.0L532.9,84.7L535.0,86.7L539.4,88.4L550.1,91.6L567.9,95.5L566.1,95.5L549.3,92.0L542.5,90.2Z" fill="#4a8fff" stroke="#4a8fff"/><path d="M536.3,89.0L530.9,86.9L528.4,84.6L527.2,82.9L526.5,81.1L526.3,79.2L526.5,77.7L529.8,69.1L531.3,66.1L533.1,63.3L534.8,61.2L536.8,59.2L545.1,52.2L546.0,53.0L539.3,58.4L536.9,60.7L534.4,63.6L532.6,66.6L530.5,71.8L528.8,78.1L528.7,80.5L529.4,82.7L530.8,84.8L532.9,86.8L537.4,88.5L548.0,91.7L566.1,95.5L564.2,95.5L549.8,92.6L543.7,91.2Z" fill="#4d96ff" stroke="#4d96ff"/><path d="M529.5,87.4L528.3,86.7L526.6,85.1L525.5,83.8L524.6,82.3L524.1,80.7L524.0,79.5L524.2,78.0L524.6,76.6L526.0,74.1L526.9,71.5L528.6,68.0L530.3,65.0L532.1,62.5L533.8,60.5L536.2,58.2L544.2,51.5L545.1,52.2L538.4,57.7L535.9,60.0L533.3,63.0L531.3,66.1L529.1,70.8L527.7,75.0L526.5,77.7L526.3,80.1L527.0,82.4L528.3,84.5L530.4,86.5L531.6,87.3L534.4,88.3L540.4,90.3L546.0,91.8L564.2,95.5L562.4,95.6L543.9,91.9L536.3,89.7Z" fill="#4f9dff" stroke="#4f9dff"/><path d="M530.3,88.6L526.7,87.2L524.4,85.2L523.1,83.6L522.1,81.8L521.8,80.4L521.7,78.8L522.1,77.0L522.8,75.4L524.3,73.1L525.5,70.4L527.1,67.5L530.6,62.3L532.7,60.0L534.9,57.9L543.3,50.8L544.2,51.5L537.3,57.2L534.4,59.9L531.6,63.1L529.6,66.2L527.7,69.8L526.0,74.1L525.0,75.8L524.3,77.3L524.0,79.8L524.5,82.1L525.9,84.3L528.3,86.7L529.5,87.4L532.3,88.4L538.4,90.4L543.9,91.9L562.4,95.6L560.5,95.6L542.1,92.0L536.3,90.5Z" fill="#51a3ff" stroke="#51a3ff"/><path d="M529.2,89.0L524.7,87.3L522.7,85.8L521.2,84.1L520.1,82.4L519.5,80.6L519.4,78.7L519.7,77.2L520.7,75.0L522.8,72.2L525.6,67.0L529.2,62.1L533.7,57.4L542.4,50.1L543.3,50.8L536.3,56.6L533.3,59.3L530.4,62.6L528.2,65.7L526.1,69.3L524.3,73.1L523.0,75.1L522.1,76.9L521.7,79.5L522.1,81.8L523.4,84.0L525.3,86.0L526.7,87.2L529.3,88.2L535.3,90.2L541.9,92.0L560.5,95.6L558.6,95.7L541.2,92.4L535.4,90.9Z" fill="#53aaff" stroke="#53aaff"/><path d="M526.6,89.2L522.0,87.5L518.7,83.9L517.6,82.1L517.1,80.3L517.0,78.5L517.4,76.8L518.5,74.7L521.3,71.3L524.1,66.6L528.0,61.5L532.6,56.8L541.5,49.4L542.4,50.1L535.3,56.0L532.2,58.8L529.2,62.1L526.8,65.2L524.5,68.8L522.8,72.2L521.0,74.5L520.1,76.1L519.4,78.7L519.4,80.1L519.7,81.5L520.6,83.3L522.3,85.4L524.7,87.3L526.3,88.0L533.2,90.3L539.9,92.1L558.6,95.7L556.8,95.8L540.4,92.8L536.6,91.9Z" fill="#56b1ff" stroke="#56b1ff"/><path d="M524.6,90.1L519.2,88.1L518.7,87.8L518.1,87.0L516.7,84.4L515.6,82.8L514.9,80.9L514.7,78.5L515.2,76.5L516.0,74.9L519.5,70.8L523.1,65.5L527.1,60.6L531.6,56.2L540.7,48.8L541.5,49.4L534.2,55.5L530.9,58.5L527.4,62.2L524.5,65.9L521.3,71.3L518.5,74.7L517.6,76.3L517.1,77.8L517.0,79.0L517.1,80.3L517.4,81.7L518.2,83.1L519.4,84.7L522.0,87.5L523.6,88.2L527.7,89.5L537.8,92.2L556.8,95.8L554.9,95.9L536.0,92.4L532.0,91.9L527.9,91.0Z" fill="#58b8ff" stroke="#58b8ff"/><path d="M521.1,90.8L515.8,88.4L515.3,88.0L514.6,86.8L513.7,84.7L512.3,80.2L512.3,78.2L512.9,76.1L513.5,75.1L518.1,70.0L522.2,64.3L526.2,59.8L531.1,55.2L539.8,48.1L540.7,48.8L531.2,56.6L526.2,61.6L522.7,66.1L519.8,70.4L516.0,74.9L515.2,76.5L514.7,78.0L514.6,79.5L515.0,81.4L515.6,82.8L518.7,87.8L522.6,89.5L526.7,90.7L530.5,91.6L536.0,92.4L554.9,95.9L553.0,96.0L539.2,93.6L528.8,92.8L525.0,92.0Z" fill="#5abfff" stroke="#5abfff"/><path d="M522.2,93.4L519.5,92.5L516.5,91.2L513.5,89.5L511.9,88.3L511.0,86.3L510.3,83.6L509.9,79.0L510.4,76.5L511.0,75.3L516.7,69.2L520.3,64.5L524.3,59.9L529.5,55.1L539.0,47.4L539.8,48.1L531.1,55.2L526.2,59.8L522.2,64.3L518.1,70.0L513.5,75.1L512.7,76.7L512.3,78.2L512.3,79.7L512.5,81.1L513.2,82.7L514.0,85.6L515.3,88.0L517.9,89.5L521.1,90.8L525.0,92.0L528.8,92.8L539.2,93.6L553.0,96.0L551.2,96.1L542.0,94.6L529.7,94.4L525.1,93.9Z" fill="#5dc6ff" stroke="#5dc6ff"/><path d="M521.0,96.0L518.2,95.2L515.4,94.0L511.5,91.3L508.5,88.7L507.7,86.1L507.3,83.5L507.5,78.6L508.0,76.6L508.4,75.5L515.4,68.3L518.9,64.0L523.1,59.4L528.5,54.5L538.1,46.8L539.0,47.4L529.7,54.9L525.0,59.3L520.8,63.9L516.7,69.2L511.0,75.3L510.2,77.0L509.9,78.9L510.3,83.6L510.7,85.4L511.5,87.5L512.3,88.7L517.2,91.5L522.2,93.4L525.1,93.9L529.7,94.4L542.0,94.6L551.2,96.1L549.3,96.2L544.7,95.5L526.9,96.4L523.3,96.3Z" fill="#5fcdff" stroke="#5fcdff"/><path d="M517.0,98.6L512.7,96.5L508.9,94.1L508.2,93.4L505.2,89.0L504.5,86.4L504.4,83.3L504.7,80.4L505.7,76.3L505.9,75.7L514.1,67.5L518.0,62.9L522.6,58.2L528.3,53.2L537.3,46.1L538.1,46.8L529.3,53.9L523.8,58.7L519.4,63.4L515.4,68.3L508.4,75.5L507.8,77.1L507.5,78.6L507.3,83.0L507.7,86.1L508.5,88.7L511.5,91.3L515.4,94.0L519.9,95.8L523.3,96.3L526.9,96.4L544.7,95.5L549.3,96.2L534.0,97.3L517.6,98.8Z" fill="#61d4ff" stroke="#61d4ff"/><path d="M512.2,99.2L508.2,96.6L504.6,93.5L502.6,91.3L501.7,89.3L501.3,86.8L501.4,83.6L502.1,80.1L503.4,76.0L512.8,66.8L516.7,62.4L521.5,57.6L527.3,52.7L536.5,45.5L537.3,46.1L528.3,53.2L522.6,58.2L518.0,62.9L514.1,67.5L505.9,75.8L505.2,77.8L504.4,83.3L504.5,86.4L505.2,89.0L508.2,93.4L508.9,94.1L512.7,96.5L517.6,98.8L512.5,99.4Z" fill="#64dbff" stroke="#64dbff"/><path d="M507.3,99.9L502.0,94.6L499.7,91.6L498.3,89.5L498.1,86.6L498.5,83.4L499.5,79.9L500.8,76.2L510.8,66.8L516.0,61.2L520.3,57.1L526.3,52.1L535.6,44.9L536.5,45.5L527.3,52.7L521.5,57.6L516.7,62.4L512.8,66.8L503.4,76.0L501.9,80.6L501.3,84.5L501.5,88.1L501.7,89.3L502.5,91.2L503.8,92.8L506.5,95.3L509.1,97.2L512.5,99.4Z" fill="#64e0fe" stroke="#64e0fe"/><path d="M502.0,100.3L497.1,92.3L495.3,89.2L494.9,88.1L495.2,85.6L495.9,82.7L498.3,76.5L508.0,67.5L514.7,60.7L519.2,56.6L525.3,51.5L534.8,44.2L535.6,44.9L526.3,52.1L520.3,57.1L516.0,61.2L510.8,66.8L500.8,76.2L499.5,79.9L498.5,83.4L498.1,86.6L498.3,89.5L499.7,91.6L502.0,94.6L507.4,100.0L502.2,100.6Z" fill="#64e4fd" stroke="#64e4fd"/><path d="M497.0,100.9L496.9,99.7L496.4,97.9L492.6,89.0L491.9,86.9L493.2,82.5L495.7,76.7L505.6,67.9L513.5,60.2L518.1,56.0L524.4,50.9L534.0,43.6L534.8,44.2L525.3,51.5L519.2,56.6L514.7,60.7L508.0,67.5L498.3,76.5L495.9,82.7L495.2,85.6L494.9,88.1L495.3,89.2L497.1,92.3L501.1,98.7L502.2,100.6L497.0,101.3Z" fill="#64e9fc" stroke="#64e9fc"/><path d="M496.0,101.0L492.4,99.8L492.4,98.2L492.0,96.0L490.7,91.0L489.8,88.5L489.3,86.1L489.4,85.3L490.5,82.3L493.1,77.0L503.5,68.0L512.2,59.7L517.0,55.5L523.4,50.3L533.3,43.0L534.0,43.6L524.4,50.9L518.1,56.0L513.5,60.2L505.6,67.9L495.7,76.7L493.4,82.0L491.9,86.8L492.6,89.0L496.7,98.8L497.0,101.3Z" fill="#64edfb" stroke="#64edfb"/><path d="M491.9,99.7L488.5,98.5L488.6,96.4L488.4,93.7L488.1,91.3L487.2,88.3L486.8,85.6L487.0,84.2L490.6,77.3L501.1,68.4L511.0,59.2L515.9,55.0L522.5,49.8L532.5,42.4L533.3,43.0L523.4,50.3L517.0,55.5L512.2,59.7L503.5,68.0L493.1,77.0L490.8,81.8L489.3,85.8L489.6,88.0L490.7,91.0L492.1,96.4L492.4,98.2L492.4,99.8Z" fill="#64f1f8" stroke="#64f1f8"/><path d="M487.8,98.3L485.1,97.3L485.5,94.8L485.4,92.1L484.6,88.2L484.5,85.4L484.6,83.4L488.0,77.6L498.2,69.1L510.6,58.0L516.7,52.9L531.7,41.8L532.5,42.4L522.5,49.8L515.9,55.0L511.0,59.2L501.1,68.4L490.6,77.3L488.0,82.1L486.8,85.0L487.1,87.9L488.1,91.3L488.6,95.1L488.5,98.5Z" fill="#64f2f3" stroke="#64f2f3"/><path d="M484.5,97.1L482.1,96.3L482.6,94.2L482.8,91.9L482.2,88.9L482.1,85.7L482.5,82.4L485.4,77.9L495.8,69.5L509.4,57.5L515.7,52.4L530.9,41.2L531.7,41.8L520.6,49.9L514.0,55.2L499.1,68.4L488.0,77.6L485.4,81.9L484.5,83.9L484.5,87.3L485.4,91.6L485.5,94.0L485.1,97.3Z" fill="#64f3ef" stroke="#64f3ef"/><path d="M482.0,96.2L479.4,95.2L480.1,92.3L479.8,89.2L479.7,86.9L480.4,81.9L482.8,78.2L493.7,69.6L508.3,57.0L514.7,51.8L530.2,40.7L530.9,41.2L519.7,49.4L512.9,54.6L496.6,68.8L485.4,77.9L482.4,82.9L482.1,87.5L482.8,92.0L482.4,95.0L482.1,96.3Z" fill="#64f4ea" stroke="#64f4ea"/><path d="M478.7,95.0L476.9,94.3L477.5,92.2L477.3,90.0L477.4,87.2L477.8,84.3L478.5,81.0L480.2,78.5L492.1,69.3L506.3,57.2L513.8,51.3L529.4,40.1L530.2,40.7L518.8,48.8L511.8,54.1L494.6,68.8L482.8,78.2L480.4,81.9L479.9,84.5L479.7,87.4L480.1,92.3L479.4,95.2Z" fill="#64f5e5" stroke="#64f5e5"/><path d="M476.3,94.0L474.6,93.4L474.9,92.5L474.9,88.5L475.3,85.6L476.1,82.1L476.7,80.1L477.6,78.8L490.6,69.0L505.1,56.7L511.8,51.5L528.7,39.5L529.4,40.1L517.9,48.2L510.8,53.5L506.3,57.2L493.0,68.5L480.2,78.5L478.7,80.6L478.3,81.8L477.4,87.2L477.3,89.5L477.5,92.6L476.9,94.3Z" fill="#66f5de" stroke="#66f5de"/><path d="M474.6,93.4L472.2,92.4L472.2,91.1L472.5,88.3L473.1,85.4L475.1,79.1L488.6,69.0L504.0,56.2L510.9,50.9L527.9,39.0L528.7,39.5L517.1,47.6L509.8,53.0L504.3,57.4L490.6,69.0L477.6,78.8L476.7,80.1L475.4,85.1L474.9,88.5L474.9,92.5Z" fill="#68f5d7" stroke="#68f5d7"/><path d="M472.2,92.4L469.7,91.4L469.8,90.9L470.3,87.6L471.2,84.2L473.0,79.4L473.7,78.6L487.0,68.8L502.0,56.4L509.9,50.4L527.2,38.4L527.9,39.0L516.3,47.0L508.8,52.5L503.1,56.9L488.6,69.0L475.1,79.1L473.9,82.3L473.0,85.9L472.4,89.2Z" fill="#69f5d0" stroke="#69f5d0"/><path d="M469.7,91.4L467.4,90.4L467.6,89.4L468.8,85.0L470.7,80.2L470.9,79.7L472.5,78.0L485.9,68.1L501.0,55.9L509.1,49.8L526.5,37.9L527.2,38.4L514.3,47.2L506.8,52.7L501.1,57.2L487.9,68.0L473.7,78.6L473.0,79.4L471.2,84.2L470.2,88.1Z" fill="#6bf5c9" stroke="#6bf5c9"/><path d="M467.2,90.4L465.2,89.5L465.7,87.8L467.0,84.2L468.8,80.0L471.3,77.4L484.4,67.9L498.9,56.2L507.1,50.0L525.8,37.3L526.5,37.9L513.5,46.7L505.9,52.1L500.0,56.7L486.4,67.8L472.5,78.0L470.9,79.7L470.4,80.8L468.8,85.0L467.4,90.4Z" fill="#6df5c2" stroke="#6df5c2"/><path d="M464.8,89.3L463.2,88.6L465.0,84.0L466.7,80.2L470.2,76.8L482.9,67.6L497.9,55.6L506.2,49.5L525.1,36.8L525.8,37.3L512.8,46.1L504.9,51.6L498.9,56.2L485.3,67.2L471.3,77.4L468.8,80.0L466.8,84.8L465.2,89.5Z" fill="#6ff5bb" stroke="#6ff5bb"/><path d="M463.1,88.6L461.2,87.8L463.2,83.2L464.6,80.5L469.0,76.2L481.8,67.0L495.9,55.9L504.2,49.7L524.4,36.3L525.1,36.8L512.0,45.5L502.9,51.8L496.9,56.4L483.8,66.9L470.2,76.8L466.7,80.2L464.7,84.5Z" fill="#73f5b2" stroke="#73f5b2"/><path d="M460.7,87.5L459.4,87.0L462.5,80.8L467.9,75.7L480.8,66.4L494.8,55.4L503.4,49.2L523.7,35.8L524.4,36.3L511.3,44.9L502.0,51.3L494.9,56.6L482.8,66.3L469.0,76.2L464.6,80.5L461.2,87.8Z" fill="#76f5a9" stroke="#76f5a9"/><path d="M459.0,86.8L457.7,86.2L460.4,81.1L463.5,78.1L466.8,75.1L479.4,66.2L484.6,62.2L492.8,55.6L502.6,48.6L523.0,35.2L523.7,35.8L509.3,45.1L500.0,51.5L493.9,56.1L481.3,66.1L467.9,75.7L462.5,80.8L459.4,87.0Z" fill="#7af5a1" stroke="#7af5a1"/><path d="M457.4,86.0L456.0,85.4L458.3,81.4L461.4,78.3L465.8,74.5L478.4,65.6L490.8,55.9L500.6,48.9L522.3,34.7L523.0,35.2L508.6,44.5L499.1,51.0L491.8,56.4L480.3,65.5L466.8,75.1L463.5,78.1L460.4,81.1L457.7,86.2Z" fill="#7df598" stroke="#7df598"/><path d="M455.7,85.3L454.4,84.7L456.2,81.7L460.0,78.0L464.7,74.0L476.9,65.4L489.8,55.4L499.8,48.3L521.6,34.2L522.3,34.7L506.7,44.8L497.1,51.3L489.8,56.7L479.3,64.9L465.8,74.5L462.0,77.7L458.8,80.8L458.3,81.4L456.0,85.4Z" fill="#80f590" stroke="#80f590"/><path d="M454.1,84.5L452.9,83.9L454.1,82.0L458.6,77.7L463.7,73.4L476.9,64.1L487.7,55.7L497.8,48.6L506.6,42.8L520.9,33.7L521.6,34.2L506.0,44.2L496.3,50.7L488.8,56.2L477.9,64.7L464.7,74.0L460.7,77.4L457.3,80.5L456.2,81.7L454.4,84.7Z" fill="#85f487" stroke="#85f487"/><path d="M452.5,83.8L451.4,83.2L452.0,82.3L455.1,79.2L458.7,76.0L462.9,72.7L476.3,63.3L487.8,54.4L498.2,47.2L511.4,38.7L520.3,33.2L520.9,33.7L502.7,45.3L489.8,54.1L477.9,63.4L463.2,73.8L459.3,77.0L455.9,80.2L454.1,82.0L452.9,83.9Z" fill="#89f37d" stroke="#89f37d"/><path d="M450.8,83.0L449.9,82.5L453.7,78.9L458.2,75.0L461.7,72.3L474.3,63.6L480.7,58.5L486.9,53.9L500.1,44.9L519.6,32.7L520.3,33.2L502.0,44.7L488.9,53.6L482.7,58.2L476.3,63.3L462.7,72.9L455.1,79.2L452.5,81.7L451.4,83.2Z" fill="#8ef274" stroke="#8ef274"/><path d="M449.2,82.2L448.7,81.9L453.0,77.9L457.8,74.0L461.2,71.4L472.2,63.9L479.6,58.0L487.1,52.6L499.4,44.4L519.0,32.2L519.6,32.7L501.4,44.1L489.1,52.3L481.7,57.7L474.3,63.6L460.8,73.0L454.4,78.3L449.9,82.5Z" fill="#93f16a" stroke="#93f16a"/><path d="M448.4,81.8L447.5,81.4L454.9,74.9L459.7,71.3L470.1,64.2L477.6,58.3L485.1,52.8L498.8,43.8L518.3,31.8L519.0,32.2L499.4,44.4L487.1,52.6L479.6,58.0L472.2,63.9L459.6,72.6L453.7,77.3L448.7,81.9Z" fill="#97f063" stroke="#97f063"/><path d="M446.7,81.0L446.3,80.8L450.3,77.3L454.5,73.9L458.8,70.7L468.0,64.5L476.5,57.8L484.2,52.3L498.1,43.2L517.7,31.3L518.3,31.8L498.8,43.8L486.2,52.1L478.6,57.5L470.1,64.2L457.5,72.9L452.4,76.9L447.5,81.4Z" fill="#98f05f" stroke="#98f05f"/><path d="M445.9,80.6L445.2,80.2L452.4,74.2L457.8,70.2L466.5,64.4L474.5,58.1L482.2,52.6L496.2,43.5L517.0,30.8L517.7,31.3L498.1,43.2L484.2,52.3L476.5,57.8L468.0,64.5L455.4,73.2L450.3,77.3L446.3,80.8Z" fill="#9af05b" stroke="#9af05b"/><path d="M445.1,80.2L444.0,79.7L449.4,75.2L456.1,70.3L464.9,64.3L471.4,59.2L480.1,52.9L491.5,45.4L504.2,37.6L516.4,30.3L517.0,30.8L496.2,43.5L482.2,52.6L474.5,58.1L466.5,64.4L454.3,72.8Z" fill="#9cf057" stroke="#9cf057"/><path d="M443.4,79.4L442.9,79.1L449.1,74.1L455.1,69.9L462.8,64.6L470.4,58.7L480.5,51.6L495.0,42.3L515.7,29.9L516.4,30.3L495.6,42.9L482.5,51.3L472.4,58.4L464.6,64.6L452.2,73.1L444.0,79.7Z" fill="#a0f052" stroke="#a0f052"/><path d="M442.6,79.0L441.8,78.6L447.0,74.5L453.0,70.2L460.8,64.9L468.3,59.0L478.4,51.9L493.0,42.5L515.1,29.4L515.7,29.9L495.0,42.3L480.5,51.6L470.4,58.7L462.6,64.8L451.0,72.7L442.9,79.1Z" fill="#a3f04e" stroke="#a3f04e"/><path d="M441.8,78.5L440.8,78.0L447.8,72.7L458.7,65.2L466.3,59.3L476.4,52.2L488.2,44.6L501.4,36.6L514.5,28.9L515.1,29.4L493.0,42.5L478.4,51.9L468.3,59.0L460.8,64.9L448.9,73.1Z" fill="#a7f04a" stroke="#a7f04a"/><path d="M440.1,77.7L439.7,77.5L444.7,73.7L456.6,65.6L465.2,58.8L476.9,50.8L492.0,41.4L513.9,28.5L514.5,28.9L492.5,42.0L478.9,50.5L468.4,57.7L458.7,65.2L448.8,71.9L440.8,78.0Z" fill="#aaf046" stroke="#aaf046"/><path d="M439.3,77.3L438.7,77.0L445.6,71.9L454.5,65.9L459.1,62.2L465.3,57.6L474.8,51.1L490.0,41.6L513.2,28.0L513.9,28.5L492.0,41.4L476.9,50.8L466.3,58.1L456.6,65.6L446.7,72.3L439.7,77.5Z" fill="#aef144" stroke="#aef144"/><path d="M438.5,76.9L437.7,76.5L444.6,71.5L452.4,66.2L457.0,62.5L463.3,57.9L472.8,51.4L485.0,43.7L498.7,35.6L512.6,27.6L513.2,28.0L490.0,41.6L474.8,51.1L463.2,59.1L454.5,65.9L445.6,71.9L438.7,77.0Z" fill="#b3f242" stroke="#b3f242"/><path d="M437.7,76.4L436.7,75.9L442.5,71.8L450.4,66.5L455.0,62.8L461.2,58.2L470.7,51.7L483.0,44.0L496.8,35.9L512.0,27.2L512.6,27.6L489.5,41.0L472.8,51.4L463.3,57.9L457.0,62.5L452.4,66.2L444.6,71.5Z" fill="#b7f341" stroke="#b7f341"/><path d="M436.0,75.6L435.7,75.4L448.3,66.8L458.0,59.3L471.3,50.4L487.0,40.7L511.4,26.7L512.0,27.2L489.0,40.4L474.7,49.2L462.3,57.4L455.9,62.1L450.4,66.5L442.5,71.8L436.7,75.9Z" fill="#bcf43f" stroke="#bcf43f"/><path d="M435.2,75.2L434.8,74.9L446.2,67.2L456.0,59.6L462.9,54.8L470.6,49.8L486.6,40.1L510.8,26.3L511.4,26.7L488.5,39.8L472.6,49.5L459.1,58.5L452.9,63.1L448.3,66.8L435.7,75.4Z" fill="#c0f43d" stroke="#c0f43d"/><path d="M434.4,74.7L433.8,74.4L444.1,67.5L449.7,63.0L456.1,58.4L468.5,50.1L481.5,42.2L495.9,34.0L510.2,25.9L510.8,26.3L486.6,40.1L470.6,49.8L457.1,58.8L450.8,63.5L446.2,67.2L434.8,74.9Z" fill="#c4f53b" stroke="#c4f53b"/><path d="M433.6,74.3L432.9,73.9L442.0,67.8L447.6,63.4L454.1,58.7L466.5,50.4L479.5,42.5L493.9,34.2L509.6,25.4L510.2,25.9L484.6,40.4L468.5,50.1L455.0,59.2L448.7,63.8L444.1,67.5L433.8,74.4Z" fill="#c7f53a" stroke="#c7f53a"/><path d="M432.8,73.9L431.9,73.5L439.9,68.1L446.3,63.1L452.0,59.0L464.5,50.8L477.5,42.9L492.0,34.5L509.1,25.0L509.6,25.4L484.1,39.8L466.5,50.4L455.2,57.9L447.6,63.4L442.0,67.8Z" fill="#cbf538" stroke="#cbf538"/><path d="M431.9,73.5L431.0,73.0L437.8,68.5L445.4,62.6L449.9,59.4L462.4,51.1L475.4,43.2L490.0,34.8L508.5,24.6L509.1,25.0L482.1,40.1L464.5,50.8L452.0,59.0L446.3,63.1L439.9,68.1Z" fill="#cef536" stroke="#cef536"/><path d="M430.3,72.6L430.1,72.5L435.7,68.8L447.8,59.7L455.1,54.8L464.5,48.8L481.4,38.9L507.9,24.2L508.5,24.6L483.4,38.6L466.6,48.5L457.1,54.5L449.9,59.4L436.7,69.2L431.0,73.0Z" fill="#d2f535" stroke="#d2f535"/><path d="M429.5,72.2L429.3,72.0L433.6,69.2L445.7,60.0L453.0,55.1L462.5,49.2L476.1,41.1L491.2,32.6L507.3,23.8L507.9,24.2L481.4,38.9L464.5,48.8L455.1,54.8L447.8,59.7L434.6,69.6L430.1,72.5Z" fill="#d5f533" stroke="#d5f533"/><path d="M428.6,71.7L428.4,71.6L431.5,69.5L443.7,60.4L450.9,55.5L460.4,49.5L474.1,41.4L489.3,32.9L506.7,23.3L507.3,23.8L481.0,38.3L463.9,48.3L454.3,54.3L446.9,59.2L432.5,69.9L429.3,72.0Z" fill="#d9f432" stroke="#d9f432"/><path d="M427.8,71.3L427.5,71.1L432.1,67.9L441.8,60.5L450.2,55.0L459.8,48.9L473.7,40.8L489.1,32.2L506.2,22.9L506.7,23.3L479.0,38.6L461.9,48.6L452.2,54.6L444.8,59.6L431.0,69.9L428.4,71.6Z" fill="#dcf232" stroke="#dcf232"/><path d="M427.0,70.8L426.7,70.6L441.0,60.0L449.4,54.5L457.8,49.3L471.7,41.1L487.1,32.5L505.1,22.8L505.8,22.7L506.2,22.9L478.7,38.0L459.8,48.9L450.2,55.0L442.7,59.9L429.4,69.9L427.5,71.1Z" fill="#e0ef32" stroke="#e0ef32"/><path d="M426.2,70.4L425.8,70.2L440.1,59.5L455.7,49.6L469.7,41.4L485.1,32.9L503.4,23.0L505.1,22.8L478.4,37.3L459.2,48.4L449.4,54.5L441.0,60.0L427.3,70.2L426.7,70.6Z" fill="#e3ed32" stroke="#e3ed32"/><path d="M425.4,69.9L424.9,69.7L439.3,59.0L455.1,49.1L469.3,40.8L485.0,32.2L501.6,23.3L503.4,23.0L476.4,37.7L457.2,48.7L441.0,59.0L425.8,70.2Z" fill="#e6e932" stroke="#e6e932"/><path d="M424.5,69.5L424.0,69.2L438.4,58.6L453.1,49.4L467.3,41.2L484.8,31.5L499.7,23.6L501.6,23.3L474.4,38.0L455.1,49.1L439.3,59.0L424.9,69.7Z" fill="#e7e132" stroke="#e7e132"/><path d="M423.7,69.1L423.1,68.7L437.2,58.4L451.0,49.8L465.3,41.5L482.9,31.9L497.9,23.9L499.7,23.6L472.4,38.3L453.1,49.4L438.4,58.6L425.0,68.5L424.0,69.2Z" fill="#e9d932" stroke="#e9d932"/><path d="M422.9,68.6L422.2,68.2L436.3,58.0L448.9,50.1L463.2,41.8L480.9,32.2L496.0,24.2L497.9,23.9L470.4,38.7L451.0,49.8L437.6,58.1L426.1,66.6L423.1,68.7Z" fill="#ead132" stroke="#ead132"/><path d="M422.1,68.2L421.3,67.8L435.5,57.5L446.9,50.4L461.2,42.2L478.9,32.5L494.1,24.5L496.0,24.2L470.1,38.0L450.4,49.2L436.8,57.6L426.3,65.4Z" fill="#ebc932" stroke="#ebc932"/><path d="M421.3,67.7L420.5,67.3L434.7,57.0L446.3,49.9L460.8,41.6L476.9,32.8L492.2,24.8L494.1,24.5L468.1,38.4L448.4,49.6L436.0,57.1Z" fill="#ecc230" stroke="#ecc230"/><path d="M420.4,67.3L419.6,66.8L434.4,56.2L444.3,50.3L458.8,41.9L474.9,33.2L490.3,25.1L492.2,24.8L466.0,38.7L446.3,49.9L435.2,56.7Z" fill="#edbb2f" stroke="#edbb2f"/><path d="M419.6,66.8L418.8,66.4L433.7,55.8L442.2,50.6L456.8,42.3L472.9,33.5L488.4,25.4L490.3,25.1L464.0,39.0L444.3,50.3L434.4,56.2Z" fill="#edb42d" stroke="#edb42d"/><path d="M418.8,66.4L418.0,65.9L432.9,55.3L440.1,51.0L454.7,42.6L470.9,33.8L486.5,25.7L488.4,25.4L462.0,39.4L442.2,50.6L433.7,55.8Z" fill="#eead2b" stroke="#eead2b"/><path d="M418.0,65.9L417.2,65.5L432.1,54.9L438.0,51.3L452.7,43.0L468.9,34.2L484.5,26.1L486.5,25.7L460.0,39.7L440.1,51.0L432.9,55.3Z" fill="#efa62a" stroke="#efa62a"/><path d="M417.2,65.5L416.4,65.0L430.8,54.8L436.0,51.7L450.6,43.3L466.9,34.5L482.6,26.4L484.5,26.1L457.9,40.1L438.0,51.3L432.1,54.9Z" fill="#f0a028" stroke="#f0a028"/><path d="M416.3,65.0L415.6,64.6L430.1,54.3L433.9,52.1L448.6,43.7L464.9,34.9L480.6,26.7L482.6,26.4L455.9,40.4L436.0,51.7L430.8,54.8Z" fill="#f09726" stroke="#f09726"/><path d="M415.5,64.6L414.8,64.1L429.4,53.9L431.8,52.4L447.0,43.8L462.9,35.2L478.7,27.1L480.6,26.7L453.9,40.8L433.9,52.1L430.1,54.3Z" fill="#f08e24" stroke="#f08e24"/><path d="M414.7,64.1L414.0,63.7L429.7,52.8L446.2,43.4L460.9,35.6L476.7,27.4L478.7,27.1L453.6,40.2L431.8,52.4L429.4,53.9L419.0,61.3Z" fill="#f08523" stroke="#f08523"/><path d="M413.9,63.6L413.2,63.3L428.5,52.7L445.6,43.0L458.9,35.9L474.7,27.7L476.7,27.4L451.6,40.5L429.7,52.8L416.1,62.3L414.0,63.7Z" fill="#f07c21" stroke="#f07c21"/><path d="M413.0,63.2L412.5,62.9L427.8,52.3L444.4,42.9L456.8,36.3L472.7,28.1L474.7,27.7L449.5,40.9L428.5,52.7L414.3,62.6L413.2,63.3Z" fill="#f0741f" stroke="#f0741f"/><path d="M412.2,62.7L411.7,62.4L427.1,51.9L443.8,42.5L456.7,35.6L470.8,28.4L472.7,28.1L447.5,41.3L427.8,52.3L412.5,62.9Z" fill="#f06c1d" stroke="#f06c1d"/><path d="M411.4,62.3L411.0,62.0L426.5,51.5L443.1,42.1L454.7,36.0L468.8,28.8L470.8,28.4L445.4,41.6L427.1,51.9L411.7,62.4Z" fill="#f2651b" stroke="#f2651b"/><path d="M410.6,61.8L410.2,61.6L425.8,51.1L442.5,41.7L452.7,36.4L466.8,29.1L468.8,28.8L443.7,41.8L426.5,51.5L411.0,62.0Z" fill="#f35e19" stroke="#f35e19"/><path d="M409.8,61.3L409.5,61.2L419.0,54.7L425.2,50.8L441.8,41.3L450.6,36.7L464.8,29.5L466.8,29.1L443.1,41.4L425.8,51.1L410.2,61.6Z" fill="#f45716" stroke="#f45716"/><path d="M408.9,60.9L408.8,60.8L424.0,50.7L441.2,41.0L462.8,29.8L464.8,29.5L441.8,41.3L424.6,51.1L409.5,61.2Z" fill="#f55014" stroke="#f55014"/><path d="M408.1,60.4L415.5,55.4L423.3,50.3L440.6,40.6L460.8,30.2L462.8,29.8L441.2,41.0L424.0,50.7L408.8,60.8Z" fill="#f54a14" stroke="#f54a14"/><path d="M407.4,59.9L422.7,50.0L440.0,40.2L458.8,30.6L460.8,30.2L440.6,40.6L423.3,50.3L408.1,60.4Z" fill="#f54514" stroke="#f54514"/><path d="M407.3,60.0L406.6,59.6L414.7,54.3L422.6,49.3L442.5,38.2L456.7,30.9L458.8,30.6L440.0,40.2L423.3,49.6Z" fill="#f53f14" stroke="#f53f14"/><path d="M406.5,59.5L405.9,59.2L422.0,48.9L440.4,38.6L454.7,31.3L456.7,30.9L439.4,39.8L422.6,49.3L414.7,54.3L406.6,59.6Z" fill="#f53914" stroke="#f53914"/><path d="M405.7,59.0L405.2,58.8L421.4,48.5L438.8,38.7L452.7,31.7L454.7,31.3L438.8,39.4L422.0,48.9L405.9,59.2Z" fill="#f53413" stroke="#f53413"/><path d="M404.8,58.6L404.6,58.4L419.5,48.9L437.6,38.7L450.7,32.0L452.7,31.7L438.2,39.1L420.8,48.9L405.2,58.8Z" fill="#f52f12" stroke="#f52f12"/><path d="M404.0,58.1L403.9,58.0L407.6,55.6L419.6,48.1L437.0,38.3L448.6,32.4L450.7,32.0L437.6,38.7L420.2,48.5L404.6,58.4Z" fill="#f52b11" stroke="#f52b11"/><path d="M403.2,57.6L419.0,47.8L436.4,38.0L446.6,32.8L448.6,32.4L437.0,38.3L420.2,47.8L403.9,58.0Z" fill="#f52610" stroke="#f52610"/><path d="M402.8,57.1L418.4,47.4L435.8,37.6L444.6,33.2L446.6,32.8L436.4,38.0L419.6,47.4L403.2,57.6L402.5,57.3Z" fill="#f5220f" stroke="#f5220f"/><path d="M402.4,57.2L401.9,56.9L418.4,46.7L435.2,37.2L442.5,33.5L444.6,33.2L435.8,37.6L419.0,47.1L402.5,57.3Z" fill="#f4200f" stroke="#f4200f"/><path d="M401.6,56.7L401.2,56.5L417.8,46.4L434.6,36.9L440.5,33.9L442.5,33.5L435.2,37.2L418.4,46.7L401.9,56.9Z" fill="#f21e0f" stroke="#f21e0f"/><path d="M400.7,56.2L400.5,56.1L415.2,47.2L434.0,36.5L438.4,34.3L440.5,33.9L434.6,36.9L417.2,46.7L401.2,56.5Z" fill="#f11b0f" stroke="#f11b0f"/><path d="M399.9,55.8L416.0,46.0L433.5,36.2L436.4,34.7L438.4,34.3L434.0,36.5L416.6,46.4L400.5,56.1Z" fill="#f0190f" stroke="#f0190f"/><path d="M399.6,55.2L414.9,45.9L432.9,35.8L434.3,35.1L436.4,34.7L433.5,36.2L416.0,46.0L399.9,55.8L399.3,55.4Z" fill="#eb170f" stroke="#eb170f"/><path d="M399.1,55.3L398.6,55.0L414.8,45.3L432.3,35.5L434.3,35.1L415.4,45.7L399.3,55.4Z" fill="#e5150f" stroke="#e5150f"/><path d="M398.3,54.8L398.0,54.7L414.3,45.0L430.6,35.8L432.3,35.5L414.8,45.3L398.6,55.0Z" fill="#df120f" stroke="#df120f"/><path d="M397.4,54.4L411.3,46.0L428.9,36.1L430.6,35.8L413.1,45.7L398.0,54.7Z" fill="#d9100f" stroke="#d9100f"/><path d="M396.9,53.8L411.3,45.4L427.1,36.5L428.9,36.1L411.3,46.0L397.4,54.3L396.7,54.0Z" fill="#d30e0e" stroke="#d30e0e"/><path d="M396.6,53.9L396.1,53.6L411.2,44.7L425.4,36.8L427.1,36.5L413.0,44.4Z" fill="#cc0d0d" stroke="#cc0d0d"/><path d="M395.8,53.4L395.5,53.2L412.0,43.6L423.7,37.1L425.4,36.8L409.5,45.7L396.1,53.6Z" fill="#c50c0c" stroke="#c50c0c"/><path d="M395.0,53.0L406.0,46.4L421.9,37.5L423.7,37.1L409.5,45.1L395.5,53.2Z" fill="#be0b0b" stroke="#be0b0b"/><path d="M394.5,52.4L406.0,45.7L420.2,37.8L421.9,37.5L407.7,45.4L394.9,52.9L394.3,52.6Z" fill="#b70a0a" stroke="#b70a0a"/><path d="M394.2,52.5L393.7,52.2L407.7,44.1L418.5,38.1L420.2,37.8Z" fill="#af0909" stroke="#af0909"/><path d="M393.3,52.0L393.1,51.9L409.8,42.3L416.7,38.5L418.5,38.1L405.9,45.1L393.7,52.2Z" fill="#a60707" stroke="#a60707"/><path d="M392.5,51.5L415.0,38.8L416.7,38.5L393.1,51.9Z" fill="#9e0606" stroke="#9e0606"/><path d="M392.3,51.0L413.2,39.1L415.0,38.8L392.5,51.5L391.9,51.2Z" fill="#960505" stroke="#960505"/><path d="M391.7,51.1L391.3,50.8L406.0,42.5L411.5,39.5L413.2,39.1L391.9,51.2Z" fill="#8f0404" stroke="#8f0404"/><path d="M390.9,50.6L390.7,50.5L409.8,39.8L411.5,39.5L391.3,50.8Z" fill="#880303" stroke="#880303"/><path d="M390.3,50.1L408.0,40.2L409.8,39.8L390.7,50.5L390.1,50.2Z" fill="#810101" stroke="#810101"/><path d="M390.1,50.1L389.6,49.8L406.3,40.5L408.0,40.2Z" fill="#7a0000" stroke="#7a0000"/><path d="M389.2,49.7L381.8,45.4L406.3,40.5L389.6,49.8Z" fill="#750000" stroke="#750000"/></g><path d="M497.6,101.7 C488,94 484,82 487,71 C489,64 493,60 499.5,57" stroke="#000" stroke-width="1.2" fill="none" stroke-dasharray="3,2.2"/><path d="M503.5,54.5 L496.8,56 L500.2,60.6 Z" fill="#000"/><circle cx="497.6" cy="101.7" r="3.4" fill="#000"/><rect x="637.9" y="11.2" width="11.5" height="103.9" fill="url(#cbar)"/><path d="M647.6,110.2H649.4M637.9,110.2H639.7M647.6,93.7H649.4M637.9,93.7H639.7M647.6,77.2H649.4M637.9,77.2H639.7M647.6,60.7H649.4M637.9,60.7H639.7M647.6,44.2H649.4M637.9,44.2H639.7M647.6,27.7H649.4M637.9,27.7H639.7" stroke="#333" stroke-width="0.5"/><text x="652.9" y="14.7" font-size="8.9" textLength="17.1" lengthAdjust="spacingAndGlyphs" fill="#222">0.07</text><text x="652.9" y="31.2" font-size="8.9" textLength="17.1" lengthAdjust="spacingAndGlyphs" fill="#222">0.06</text><text x="652.9" y="47.9" font-size="8.9" textLength="17.1" lengthAdjust="spacingAndGlyphs" fill="#222">0.05</text><text x="652.9" y="64.4" font-size="8.9" textLength="17.1" lengthAdjust="spacingAndGlyphs" fill="#222">0.04</text><text x="652.9" y="80.9" font-size="8.9" textLength="17.1" lengthAdjust="spacingAndGlyphs" fill="#222">0.03</text><text x="652.9" y="97.5" font-size="8.9" textLength="17.1" lengthAdjust="spacingAndGlyphs" fill="#222">0.02</text><text x="652.9" y="114.1" font-size="8.9" textLength="17.1" lengthAdjust="spacingAndGlyphs" fill="#222">0.01</text><text x="652.9" y="121.6" font-size="8.9" textLength="22" lengthAdjust="spacingAndGlyphs" fill="#222">0.007</text><text x="293.4" y="17.7" font-weight="bold" font-size="20.6" textLength="12.6" lengthAdjust="spacingAndGlyphs">B</text><text x="350.7" y="36.5" font-size="11" textLength="13.6" lengthAdjust="spacingAndGlyphs" fill="#222" stroke="#222" stroke-width="0.15">10</text><text x="364.6" y="31.9" font-size="7.6" textLength="8.6" lengthAdjust="spacingAndGlyphs" fill="#222">-1</text><text x="350.7" y="94.7" font-size="11" textLength="13.6" lengthAdjust="spacingAndGlyphs" fill="#222" stroke="#222" stroke-width="0.15">10</text><text x="364.6" y="90.1" font-size="7.6" textLength="8.6" lengthAdjust="spacingAndGlyphs" fill="#222">-2</text><text x="350.7" y="152.6" font-size="11" textLength="13.6" lengthAdjust="spacingAndGlyphs" fill="#222" stroke="#222" stroke-width="0.15">10</text><text x="364.6" y="148.0" font-size="7.6" textLength="8.6" lengthAdjust="spacingAndGlyphs" fill="#222">-3</text><text x="350.7" y="209.8" font-size="11" textLength="13.6" lengthAdjust="spacingAndGlyphs" fill="#222" stroke="#222" stroke-width="0.15">10</text><text x="364.6" y="205.2" font-size="7.6" textLength="8.6" lengthAdjust="spacingAndGlyphs" fill="#222">-4</text><text x="511.4" y="259.4" font-size="12" text-anchor="middle" textLength="20.5" lengthAdjust="spacingAndGlyphs" fill="#222" stroke="#222" stroke-width="0.15">0.0</text><text x="536.7" y="252.5" font-size="12" text-anchor="middle" textLength="20.5" lengthAdjust="spacingAndGlyphs" fill="#222" stroke="#222" stroke-width="0.15">0.2</text><text x="562.0" y="245.7" font-size="12" text-anchor="middle" textLength="20.5" lengthAdjust="spacingAndGlyphs" fill="#222" stroke="#222" stroke-width="0.15">0.4</text><text x="587.3" y="238.8" font-size="12" text-anchor="middle" textLength="20.5" lengthAdjust="spacingAndGlyphs" fill="#222" stroke="#222" stroke-width="0.15">0.6</text><text x="612.6" y="232.0" font-size="12" text-anchor="middle" textLength="20.5" lengthAdjust="spacingAndGlyphs" fill="#222" stroke="#222" stroke-width="0.15">0.8</text><text x="637.9" y="225.1" font-size="12" text-anchor="middle" textLength="20.5" lengthAdjust="spacingAndGlyphs" fill="#222" stroke="#222" stroke-width="0.15">1.0</text><text x="486.8" y="257.9" font-size="12" text-anchor="middle" fill="#222" stroke="#222" stroke-width="0.15">0</text><text transform="translate(307.6,244.9) rotate(-22) scale(1.04)" font-size="9.2" fill="#222">(Δ<tspan font-style="italic">a</tspan><tspan font-size="6" dy="1.8">AlN</tspan><tspan dy="-1.8">)</tspan><tspan font-size="6.2" dy="-4">5</tspan><tspan dy="4">(15 nm)</tspan><tspan font-size="6.2" dy="-4">2</tspan></text><text transform="translate(339,135.2) rotate(-90)" font-size="18.8" font-style="italic" fill="#111" stroke="#111" stroke-width="0.3" textLength="30.2" lengthAdjust="spacingAndGlyphs">τ/G</text><text x="390" y="252.9" font-size="18.7" fill="#111" stroke="#111" stroke-width="0.3" font-style="italic">Δa<tspan font-size="12.8" dy="-6.8" font-style="normal">5</tspan><tspan dy="6.8">λ</tspan><tspan font-size="12.8" dy="-6.8" font-style="normal">2</tspan></text><text x="594.6" y="254.9" font-size="18.2" fill="#111" stroke="#111" stroke-width="0.3" font-style="italic">T/T<tspan font-size="12.5" dy="3.2" font-style="normal">c</tspan></text><text x="439.6" y="55.7" font-size="13.6" fill="#111" font-style="italic" font-family="Liberation Serif">τ</text><text x="444.6" y="59.1" font-size="11" fill="#111" textLength="20.4" lengthAdjust="spacingAndGlyphs">sum</text><text x="416.6" y="117.2" font-size="13.6" fill="#111" font-style="italic" font-family="Liberation Serif">τ</text><text x="422.0" y="121.0" font-size="10.6" fill="#111" textLength="7.0" lengthAdjust="spacingAndGlyphs">G</text><text x="409.6" y="136.5" font-size="13.6" fill="#111" font-style="italic" font-family="Liberation Serif">τ</text><text x="414.8" y="139.5" font-size="10.6" fill="#111" textLength="15.9" lengthAdjust="spacingAndGlyphs">h-p</text><text x="437.0" y="167.7" font-size="13.6" fill="#111" font-style="italic" font-family="Liberation Serif">τ</text><text x="442.5" y="170.8" font-size="10.6" fill="#111" textLength="6.0" lengthAdjust="spacingAndGlyphs">S</text><text x="549.6" y="207.3" font-size="13.6" fill="#111" font-style="italic" font-family="Liberation Serif">τ</text><text x="555.0" y="210.6" font-size="10.6" fill="#111" textLength="11.0" lengthAdjust="spacingAndGlyphs">sd</text><text x="620.4" y="148.6" font-size="15" fill="#111" font-family="Liberation Serif" textLength="62.6" lengthAdjust="spacingAndGlyphs"><tspan font-style="italic">τ</tspan>*+<tspan font-style="italic">τ</tspan><tspan font-family="Liberation Sans" font-size="10.5" dy="3">SS</tspan><tspan dy="-3">+</tspan><tspan font-style="italic">τ</tspan><tspan font-family="Liberation Sans" font-size="10.5" dy="3">sr</tspan></text><path d="M34.3,235 V10" stroke="#000" stroke-width="1.6" fill="none"/><path d="M34.2,1.2 L38.3,15 L34.2,12 L30.2,15 Z" fill="#000"/><path d="M33.5,234.9 H287" stroke="#000" stroke-width="1.6" fill="none"/><path d="M295.3,234.9 L281.3,231.3 L284.5,234.9 L281.3,238.6 Z" fill="#000"/><path d="M64.9,107.3 L66.1,115.8" stroke="#70d070" stroke-width="0.7" fill="none"/><path d="M83.3,126.1 L118.2,163.4" stroke="#f04040" stroke-width="0.7" fill="none"/><path d="M63.2,133.3 L60.6,143" stroke="#404040" stroke-width="0.7" fill="none"/><path d="M41.2,118.3C46.2,118.0 61.6,117.2 71.0,116.7C80.3,116.2 90.7,115.9 97.3,115.3C103.9,114.7 106.4,114.3 110.5,113.3C114.6,112.3 118.4,111.2 122.0,109.3C125.6,107.4 128.8,104.6 132.0,102.0C135.2,99.4 138.0,95.9 141.0,93.6C144.0,91.3 146.8,89.5 150.0,88.3C153.2,87.1 156.8,86.5 160.1,86.6C163.3,86.7 166.5,87.7 169.5,88.9C172.5,90.1 175.1,92.1 178.0,94.0C180.9,95.9 183.9,98.4 186.7,100.4C189.5,102.5 191.8,104.4 194.7,106.3C197.6,108.2 202.4,110.7 204.0,111.6" stroke="#36e428" stroke-width="1.5" fill="none"/><path d="M204,111.6 C214,116 224,120 230,121.5 C240,124.5 248,126.5 254.8,127.8" stroke="#36e428" stroke-width="1.5" fill="none" stroke-dasharray="4.5,3"/><path d="M41.2,130.7C44.7,130.2 55.3,128.8 62.3,128.0C69.3,127.2 74.5,126.8 83.3,126.1C92.0,125.4 103.7,124.5 114.8,123.7C125.9,123.0 141.8,122.1 150.0,121.6C158.2,121.0 159.6,120.9 163.8,120.4C168.0,119.9 171.8,119.5 175.2,118.6C178.6,117.7 181.7,116.4 184.4,115.1C187.1,113.8 189.2,112.0 191.3,110.5C193.4,109.0 195.3,107.5 197.0,106.0C198.7,104.5 200.3,102.7 201.6,101.4C202.8,100.2 204.0,99.0 204.5,98.5" stroke="#f02424" stroke-width="1.45" fill="none"/><path d="M204.5,98.5 C211,92 217,87.5 225.4,82.8" stroke="#f02424" stroke-width="1.45" fill="none" stroke-dasharray="4.5,3"/><path d="M41.2,134.2C49.1,133.7 69.5,132.4 88.6,131.4C107.7,130.4 136.6,128.6 156.0,128.2C175.4,127.8 196.8,128.7 205.0,128.8" stroke="#000" stroke-width="1.4" fill="none"/><path d="M205,128.8 L253.5,130" stroke="#000" stroke-width="1.4" fill="none" stroke-dasharray="4.5,3.2"/><circle cx="58.6" cy="32.3" r="6.2" fill="url(#g_red)"/><circle cx="77.2" cy="35.4" r="8.3" fill="url(#g_lblue)"/><circle cx="62.7" cy="37.8" r="6.2" fill="url(#g_red)"/><circle cx="72.5" cy="48.5" r="6" fill="url(#g_red)"/><circle cx="50.8" cy="41.6" r="6.3" fill="url(#g_blue)"/><circle cx="67.3" cy="43.6" r="6.3" fill="url(#g_green)"/><circle cx="58.2" cy="51.9" r="6.4" fill="url(#g_purple)"/><circle cx="74.1" cy="53.2" r="6.1" fill="url(#g_red)"/><circle cx="49.3" cy="61.4" r="8.3" fill="url(#g_gray)"/><circle cx="66.5" cy="62.4" r="6.2" fill="url(#g_red)"/><circle cx="54.1" cy="35.4" r="2.3" fill="url(#g_yellow)"/><circle cx="66.9" cy="32.7" r="2.3" fill="url(#g_yellow)"/><circle cx="58.6" cy="42.6" r="2.3" fill="url(#g_yellow)"/><circle cx="72" cy="39.5" r="2.3" fill="url(#g_yellow)"/><circle cx="49.3" cy="50.9" r="2.3" fill="url(#g_yellow)"/><circle cx="66.9" cy="52.9" r="2.3" fill="url(#g_yellow)"/><circle cx="74.7" cy="45.1" r="2.3" fill="url(#g_yellow)"/><circle cx="58.2" cy="61.2" r="2.3" fill="url(#g_yellow)"/><circle cx="71" cy="57.5" r="2.3" fill="url(#g_yellow)"/><circle cx="142.6" cy="13.4" r="6.2" fill="url(#g_purple)"/><circle cx="176" cy="21.5" r="5.8" fill="url(#g_red)"/><circle cx="190.9" cy="24.7" r="5.8" fill="url(#g_red)"/><circle cx="146" cy="21" r="7.3" fill="url(#g_lblue)"/><circle cx="160" cy="20.3" r="6.4" fill="url(#g_green)"/><circle cx="165.2" cy="26.5" r="5.8" fill="url(#g_red)"/><circle cx="131.9" cy="25.6" r="8" fill="url(#g_gray)"/><circle cx="180" cy="28.4" r="5.8" fill="url(#g_red)"/><circle cx="151.3" cy="28.7" r="6.1" fill="url(#g_purple)"/><circle cx="191.2" cy="42.8" r="5.8" fill="url(#g_red)"/><circle cx="168.6" cy="33" r="5.8" fill="url(#g_red)"/><circle cx="184.1" cy="34.7" r="5.8" fill="url(#g_red)"/><circle cx="141.6" cy="36.4" r="6.1" fill="url(#g_green)"/><circle cx="159.3" cy="39.9" r="7.2" fill="url(#g_gray)"/><circle cx="176" cy="41.7" r="5.8" fill="url(#g_red)"/><circle cx="132.8" cy="45.8" r="6.1" fill="url(#g_blue)"/><circle cx="149.8" cy="48.4" r="8.2" fill="url(#g_lblue)"/><circle cx="168.5" cy="49.3" r="5.8" fill="url(#g_red)"/><circle cx="183.6" cy="52" r="5.8" fill="url(#g_red)"/><circle cx="137.6" cy="19.5" r="2.3" fill="url(#g_yellow)"/><circle cx="152" cy="16.5" r="2.3" fill="url(#g_yellow)"/><circle cx="142.1" cy="27.6" r="2.3" fill="url(#g_yellow)"/><circle cx="160" cy="30.2" r="2.3" fill="url(#g_yellow)"/><circle cx="149" cy="37.4" r="2.3" fill="url(#g_yellow)"/><circle cx="133.4" cy="37.1" r="2.3" fill="url(#g_yellow)"/><circle cx="168.6" cy="20.7" r="2.3" fill="url(#g_yellow)"/><circle cx="172" cy="25.9" r="2.3" fill="url(#g_yellow)"/><circle cx="184" cy="23" r="2.3" fill="url(#g_yellow)"/><circle cx="175.5" cy="33.1" r="2.3" fill="url(#g_yellow)"/><circle cx="188.7" cy="29.3" r="2.3" fill="url(#g_yellow)"/><circle cx="191.3" cy="34.7" r="2.3" fill="url(#g_yellow)"/><circle cx="167.3" cy="41.1" r="2.3" fill="url(#g_yellow)"/><circle cx="183.1" cy="43.1" r="2.3" fill="url(#g_yellow)"/><circle cx="160.3" cy="51" r="2.3" fill="url(#g_yellow)"/><circle cx="175.5" cy="50.1" r="2.3" fill="url(#g_yellow)"/><circle cx="188.9" cy="46.9" r="2.3" fill="url(#g_yellow)"/><circle cx="140.4" cy="45.2" r="2.3" fill="url(#g_yellow)"/><circle cx="160.6" cy="29.9" r="2.3" fill="url(#g_yellow)"/><circle cx="61.1" cy="184.7" r="6.3" fill="url(#g_purple)"/><circle cx="65.4" cy="191.5" r="6.9" fill="url(#g_lblue)"/><circle cx="78.6" cy="191.7" r="6.3" fill="url(#g_green)"/><circle cx="50.8" cy="196.8" r="8.2" fill="url(#g_gray)"/><circle cx="73.5" cy="206.5" r="6" fill="url(#g_blue)"/><circle cx="70" cy="199.1" r="6.2" fill="url(#g_purple)"/><circle cx="60.7" cy="206.9" r="6.3" fill="url(#g_green)"/><circle cx="80.3" cy="211" r="7.8" fill="url(#g_gray)"/><circle cx="52" cy="217.2" r="6.2" fill="url(#g_blue)"/><circle cx="68.9" cy="219.3" r="8.3" fill="url(#g_lblue)"/><circle cx="56.6" cy="190.8" r="2.3" fill="url(#g_yellow)"/><circle cx="71.4" cy="188" r="2.3" fill="url(#g_yellow)"/><circle cx="61.1" cy="198.3" r="2.3" fill="url(#g_yellow)"/><circle cx="77.2" cy="201.8" r="2.3" fill="url(#g_yellow)"/><circle cx="52" cy="206.9" r="2.3" fill="url(#g_yellow)"/><circle cx="68.5" cy="208.6" r="2.3" fill="url(#g_yellow)"/><circle cx="59.6" cy="216.2" r="2.3" fill="url(#g_yellow)"/><circle cx="74.7" cy="213.1" r="2.3" fill="url(#g_yellow)"/><path d="M76.93,94.94A13.7,13.7 0 1 0 49.61,94.22L53.71,94.04A9.6,9.6 0 1 1 72.85,94.54Z" fill="#ff0a0a"/><path d="M72,104.19A13.7,13.7 0 0 0 76.96,94.65L72.87,94.34A9.6,9.6 0 0 1 69.39,101.02Z" fill="#000000"/><path d="M64.35,107.26A13.7,13.7 0 0 0 72.22,104L69.55,100.89A9.6,9.6 0 0 1 64.04,103.17Z" fill="#6a1a8a"/><path d="M57.38,105.96A13.7,13.7 0 0 0 64.64,107.23L64.24,103.15A9.6,9.6 0 0 1 59.15,102.26Z" fill="#0000ff"/><path d="M51.36,100.33A13.7,13.7 0 0 0 57.64,106.08L59.33,102.34A9.6,9.6 0 0 1 54.94,98.31Z" fill="#20e020"/><path d="M49.6,93.93A13.7,13.7 0 0 0 51.51,100.57L55.04,98.49A9.6,9.6 0 0 1 53.7,93.83Z" fill="#80f4f8"/><circle cx="63.3" cy="93.6" r="9.9" fill="#f2f47e"/><path d="M61.1,143.68A14,14 0 0 0 44.9,150.23L48.82,152.44A9.5,9.5 0 0 1 59.81,148Z" fill="#20e020"/><path d="M71.09,157.74A14,14 0 0 0 60.82,143.6L59.62,147.94A9.5,9.5 0 0 1 66.59,157.53Z" fill="#80f4f8"/><path d="M61.75,170.31A14,14 0 0 0 71.1,157.44L66.6,157.33A9.5,9.5 0 0 1 60.26,166.06Z" fill="#000000"/><path d="M45.02,164.18A14,14 0 0 0 62.03,170.2L60.44,165.99A9.5,9.5 0 0 1 48.91,161.91Z" fill="#6a1a8a"/><path d="M45.05,149.97A14,14 0 0 0 45.18,164.44L49.01,162.08A9.5,9.5 0 0 1 48.92,152.26Z" fill="#0000ff"/><circle cx="57.1" cy="157.1" r="9.8" fill="#f2f47e"/><path d="M131.82,163.59A13.6,13.6 0 0 0 117.98,163.59L120.22,167.38A9.2,9.2 0 0 1 129.58,167.38Z" fill="#80f4f8"/><path d="M138.5,175.44A13.6,13.6 0 0 0 131.58,163.45L129.42,167.28A9.2,9.2 0 0 1 134.1,175.4Z" fill="#ff0a0a"/><path d="M131.58,187.15A13.6,13.6 0 0 0 138.5,175.16L134.1,175.2A9.2,9.2 0 0 1 129.42,183.32Z" fill="#000000"/><path d="M117.98,187.01A13.6,13.6 0 0 0 131.82,187.01L129.58,183.22A9.2,9.2 0 0 1 120.22,183.22Z" fill="#6a1a8a"/><path d="M111.3,175.16A13.6,13.6 0 0 0 118.22,187.15L120.38,183.32A9.2,9.2 0 0 1 115.7,175.2Z" fill="#0000ff"/><path d="M118.22,163.45A13.6,13.6 0 0 0 111.3,175.44L115.7,175.4A9.2,9.2 0 0 1 120.38,167.28Z" fill="#20e020"/><circle cx="124.9" cy="175.3" r="9.5" fill="#f2f47e"/><path d="M235.41,137.27A13.7,13.7 0 0 0 220.06,142.86L223.49,145.12A9.6,9.6 0 0 1 234.24,141.2Z" fill="#20e020"/><path d="M245.2,150.07A13.7,13.7 0 0 0 235.14,137.19L234.05,141.14A9.6,9.6 0 0 1 241.1,150.17Z" fill="#80f4f8"/><path d="M235.6,163.47A13.7,13.7 0 0 0 245.19,149.78L241.09,149.96A9.6,9.6 0 0 1 234.37,159.56Z" fill="#000000"/><path d="M219.45,156.92A13.7,13.7 0 0 0 235.87,163.38L234.56,159.5A9.6,9.6 0 0 1 223.06,154.97Z" fill="#6a1a8a"/><path d="M220.22,142.62A13.7,13.7 0 0 0 219.59,157.17L223.15,155.14A9.6,9.6 0 0 1 223.6,144.95Z" fill="#0000ff"/><circle cx="231.5" cy="150.4" r="9.9" fill="#f2f47e"/><path d="M149.92,64.47A10,10 0 0 0 139.01,63.99L140.79,67.01A6.5,6.5 0 0 1 147.88,67.31Z" fill="#80f4f8"/><path d="M154.05,73.58A10,10 0 0 0 149.75,64.35L147.77,67.24A6.5,6.5 0 0 1 150.57,73.23Z" fill="#f03848"/><path d="M149.75,80.85A10,10 0 0 0 154.07,73.37L150.58,73.1A6.5,6.5 0 0 1 147.77,77.96Z" fill="#000000"/><path d="M139.01,81.21A10,10 0 0 0 149.92,80.73L147.88,77.89A6.5,6.5 0 0 1 140.79,78.19Z" fill="#6a1a8a"/><path d="M134.1,72.5A10,10 0 0 0 139.19,81.31L140.91,78.26A6.5,6.5 0 0 1 137.6,72.53Z" fill="#0000ff"/><path d="M139.19,63.89A10,10 0 0 0 134.1,72.7L137.6,72.67A6.5,6.5 0 0 1 140.91,66.94Z" fill="#20e020"/><circle cx="144.1" cy="72.6" r="6.8" fill="#f2f47e"/><path d="M154.06,73.47A10,10 0 0 0 153.5,69.18L150.21,70.38A6.5,6.5 0 0 1 150.58,73.17Z" fill="url(#fadeW)"/><path d="M245.98,69.14A12.5,12.5 0 0 0 232.34,68.54L234.32,71.9A8.6,8.6 0 0 1 243.71,72.31Z" fill="#80f4f8"/><path d="M251.14,80.52A12.5,12.5 0 0 0 245.76,68.99L243.56,72.2A8.6,8.6 0 0 1 247.26,80.14Z" fill="#f03848"/><path d="M245.76,89.61A12.5,12.5 0 0 0 251.16,80.26L247.27,79.96A8.6,8.6 0 0 1 243.56,86.4Z" fill="#000000"/><path d="M232.34,90.06A12.5,12.5 0 0 0 245.98,89.46L243.71,86.29A8.6,8.6 0 0 1 234.32,86.7Z" fill="#6a1a8a"/><path d="M226.2,79.17A12.5,12.5 0 0 0 232.56,90.19L234.48,86.79A8.6,8.6 0 0 1 230.1,79.21Z" fill="#0000ff"/><path d="M232.56,68.41A12.5,12.5 0 0 0 226.2,79.43L230.1,79.39A8.6,8.6 0 0 1 234.48,71.81Z" fill="#20e020"/><circle cx="238.7" cy="79.3" r="8.9" fill="#f2f47e"/><path d="M251.15,80.39A12.5,12.5 0 0 0 250.45,75.02L246.78,76.36A8.6,8.6 0 0 1 247.27,80.05Z" fill="url(#fadeW)"/><path d="M253.29,101.81A9.95,9.95 0 0 0 242.44,101.34L244.19,104.31A6.5,6.5 0 0 1 251.28,104.61Z" fill="#80f4f8"/><path d="M257.4,110.87A9.95,9.95 0 0 0 253.12,101.69L251.17,104.54A6.5,6.5 0 0 1 253.97,110.53Z" fill="#f03848"/><path d="M253.12,118.11A9.95,9.95 0 0 0 257.42,110.66L253.98,110.4A6.5,6.5 0 0 1 251.17,115.26Z" fill="#000000"/><path d="M242.44,118.46A9.95,9.95 0 0 0 253.29,117.99L251.28,115.19A6.5,6.5 0 0 1 244.19,115.49Z" fill="#6a1a8a"/><path d="M237.55,109.8A9.95,9.95 0 0 0 242.62,118.57L244.31,115.56A6.5,6.5 0 0 1 241,109.83Z" fill="#0000ff"/><path d="M242.62,101.23A9.95,9.95 0 0 0 237.55,110L241,109.97A6.5,6.5 0 0 1 244.31,104.24Z" fill="#20e020"/><circle cx="247.5" cy="109.9" r="6.8" fill="#f2f47e"/><path d="M257.41,110.77A9.95,9.95 0 0 0 256.85,106.5L253.61,107.68A6.5,6.5 0 0 1 253.98,110.47Z" fill="url(#fadeW)"/><circle cx="174.5" cy="72.9" r="9.7" fill="#ff0a0a"/><circle cx="174.5" cy="72.9" r="6.5" fill="#f2f47e"/><path d="M182.45,78.46A9.7,9.7 0 0 0 184.11,74.25L180.74,73.78A6.3,6.3 0 0 1 179.66,76.51Z" fill="#7a5aa0"/><path d="M182.9,77.75A9.7,9.7 0 0 0 183.62,76.22L180.42,75.05A6.3,6.3 0 0 1 179.96,76.05Z" fill="#60c060"/><circle cx="272.1" cy="79.3" r="6.1" fill="#ff0a0a"/><circle cx="272.1" cy="79.3" r="4.1" fill="#f2f47e"/><path d="M277.1,82.8A6.1,6.1 0 0 0 278.14,80.15L275.96,79.84A3.9,3.9 0 0 1 275.29,81.54Z" fill="#7a5aa0"/><path d="M277.38,82.35A6.1,6.1 0 0 0 277.83,81.39L275.76,80.63A3.9,3.9 0 0 1 275.48,81.25Z" fill="#60c060"/><polygon points="288.7,109.9 283.35,100.63 272.65,100.63 267.3,109.9 272.65,119.17 283.35,119.17" fill="#ff0a0a"/><polygon points="285.6,109.9 281.8,103.32 274.2,103.32 270.4,109.9 274.2,116.48 281.8,116.48" fill="#f2f47e"/><path d="M285.2,111.5 L287.5,113.6 L286.6,115.3 L284.3,113.2Z" fill="#8a6ab0"/><path d="M157.1,73.3H161.7M159.4,71V75.6" stroke="#333" stroke-width="0.9"/><path d="M255.2,79.9H259.8M257.5,77.6V82.2" stroke="#333" stroke-width="0.9"/><path d="M260.7,110.4H265.3M263,108.1V112.7" stroke="#333" stroke-width="0.9"/><text x="5.8" y="17.7" font-family="Liberation Sans" font-weight="bold" font-size="20" textLength="15.2" lengthAdjust="spacingAndGlyphs">A</text><text x="61.9" y="257.2" font-family="Liberation Sans" font-size="17.6" textLength="195" lengthAdjust="spacingAndGlyphs" fill="#111" stroke="#111" stroke-width="0.35">Annealing temperature</text><text transform="translate(20.6,161.3) rotate(-90)" x="0" y="0" font-family="Liberation Sans" font-size="16.8" textLength="75.5" lengthAdjust="spacingAndGlyphs" fill="#111" stroke="#111" stroke-width="0.35">Strength</text><text x="124.9" y="159.1" text-anchor="middle" font-family="Liberation Sans" font-size="9.6" fill="#111">Zr</text><text x="107" y="167.2" text-anchor="middle" font-family="Liberation Sans" font-size="9.6" fill="#111">Ti</text><text x="143.6" y="168.7" text-anchor="middle" font-family="Liberation Sans" font-size="9.6" fill="#111">Al</text><text x="105.6" y="189.2" text-anchor="middle" font-family="Liberation Sans" font-size="9.6" fill="#111">Nb</text><text x="144.4" y="189.2" text-anchor="middle" font-family="Liberation Sans" font-size="9.6" fill="#111">Hf</text><text x="124.3" y="197.9" text-anchor="middle" font-family="Liberation Sans" font-size="9.6" fill="#111">V</text><text x="124.9" y="178.1" text-anchor="middle" font-family="Liberation Sans" font-size="9.6" fill="#111">N</text></svg></body></html>
